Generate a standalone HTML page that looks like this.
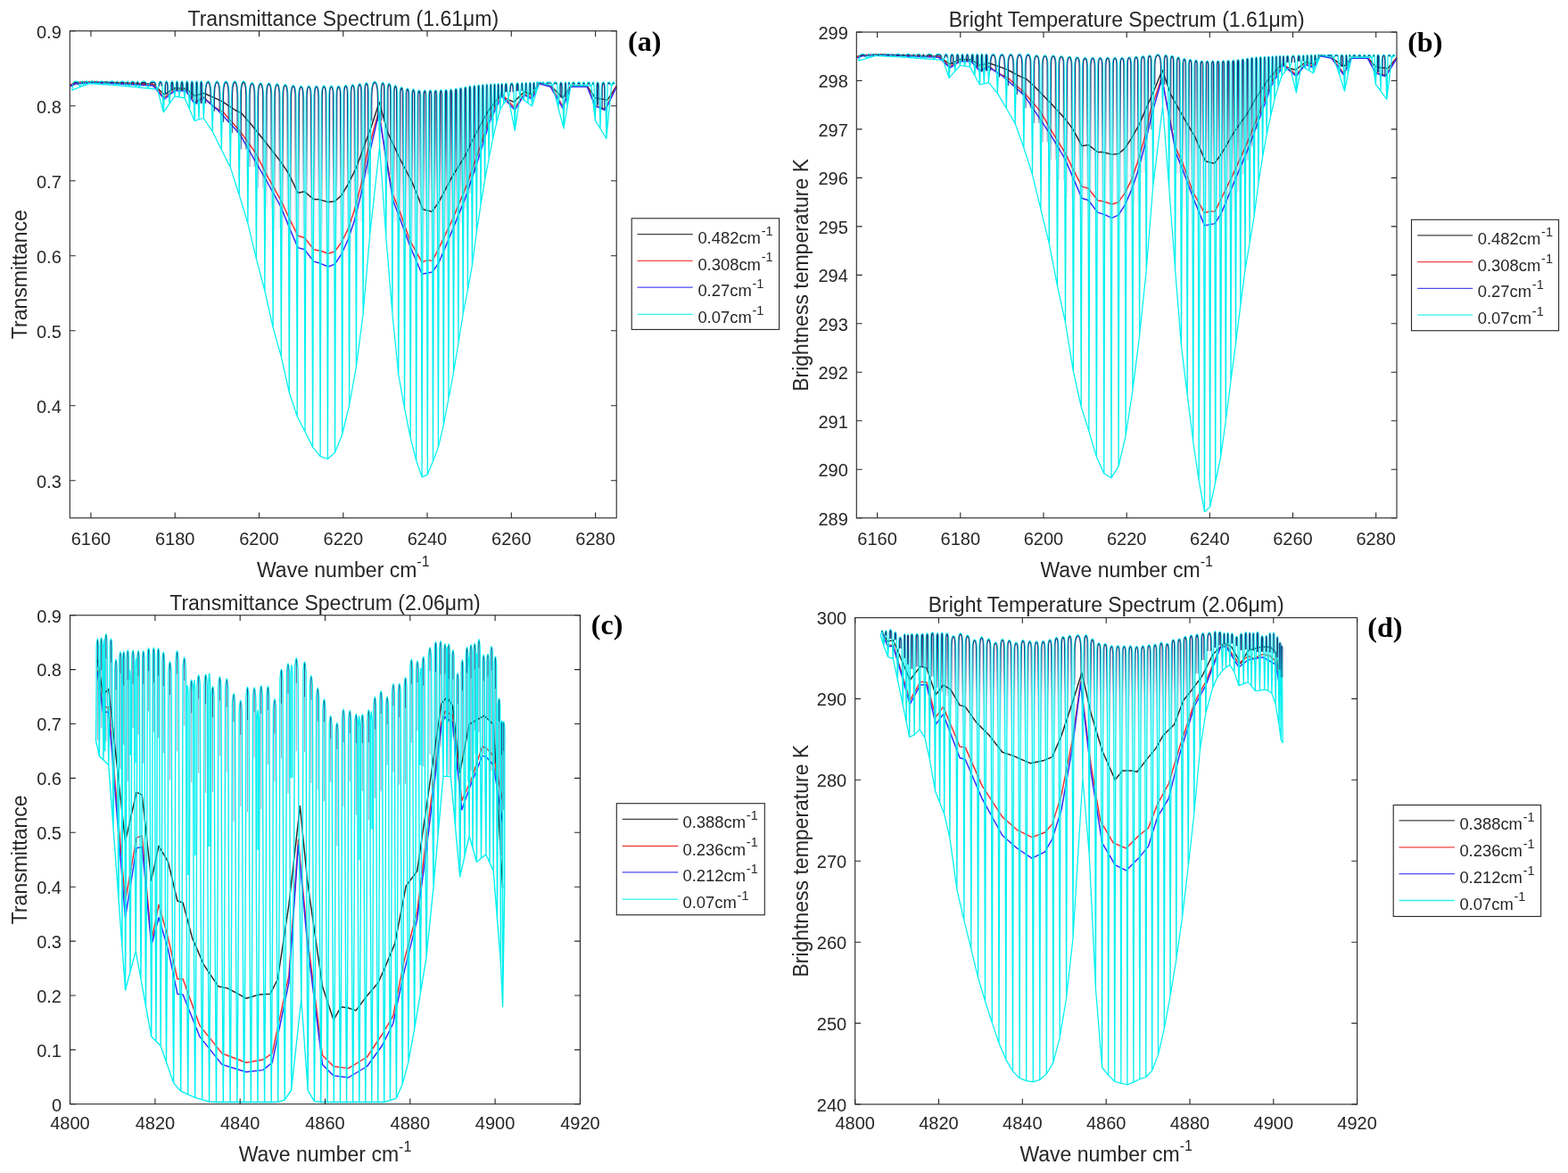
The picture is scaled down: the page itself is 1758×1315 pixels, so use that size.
<!DOCTYPE html>
<html><head><meta charset="utf-8"><title>Spectra</title><style>html,body{margin:0;padding:0;background:#fff;}svg{display:block;}</style></head><body>
<svg width="1758" height="1315" viewBox="0 0 1758 1315">
<rect width="1758" height="1315" fill="#fff"/>
<clipPath id="clipa"><rect x="78.3" y="34.7" width="612.9" height="546.0"/></clipPath>
<g clip-path="url(#clipa)">
<path d="M78.4 95.3l6.3 -2.9 19.3 -1 67.7 2.9 12.6 11.7 11.6 -7.3 12.6 .5 9.6 8.2 10.7 -2.9 15.4 6.8 6 3.1 13.6 9.1 6.9 3.4 9.1 10.3 19.2 23.8 15.8 20.4 8.9 13.3 10.3 21.5 7.4 -1.5 10.4 8.9 5.9 0 10.3 2.9 7.4 -.7 7.4 -6.7 7.4 -12.5 8.9 -17.8 6.9 -18.8 11 -30 8.2 -25.4 9.5 34 13.2 28.4 14.5 28 11.8 29.7 10.3 2.6 7.8 -11.5 14.8 -28.1 14.8 -23.7 8.9 -19.2 15.7 -29 13.7 -18.3 15.9 6.9 11.4 -11.4 9.1 3.4 8 -13.7 12.6 3.4 13.7 13.7 9.1 -13.7 18.2 0 9.1 13.7 13.7 2.3 10.3 -16" fill="none" stroke="#262626" stroke-width="1.45" stroke-linejoin="round"/>
<path d="M78.4 96.0l6.3 -3 19.3 -1 67.7 3 12.6 14.3 11.6 -8.7 12.6 .5 9.6 13.6 10.2 -5.9 10.5 10.1 11.4 6.9 18.2 20.5 18.2 25.1 12.4 24.6 15.8 28.3 10.3 22.2 8.9 17.8 7.4 2.2 10.4 13.3 7.4 1.5 8.8 2.9 7.4 -2.2 7.4 -10.3 7.4 -14.8 7.4 -22.2 7.4 -28.1 6.5 -34.6 13.3 -47.5 6.8 45.5 8.9 48.4 7.4 17.8 11.9 34 13.3 23.6 6.6 -2.2 5.2 .8 7.4 -14.8 14.8 -31.1 14.8 -35.5 14.8 -41.4 12.1 -37 13.6 -27.3 14.9 15.9 10.2 -15.9 9.1 3.4 8 -16 12.6 3.4 13.7 22.8 9.1 -22.8 18.2 0 9.1 21.7 11.4 4.6 12.6 -26.3" fill="none" stroke="#ff2a2a" stroke-width="1.45" stroke-linejoin="round"/>
<path d="M78.4 97.0l6.3 -3 19.3 -1.5 67.7 3.5 12.6 15.3 11.6 -9.7 12.6 .4 9.6 14.1 10.2 -6.1 15.9 13.4 24.2 26.3 30.6 53.3 15.8 28.7 10.3 25.2 8.9 20.7 7.4 2.2 10.4 13.3 7.4 2.2 8.8 3.7 7.4 -2.9 7.4 -11.1 7.4 -16.3 7.4 -22.2 7.4 -29.6 7.4 -36.9 12.4 -53.4 7.2 45.4 8.5 52.3 7.4 19.3 11.9 32.5 13.3 31.1 11.8 -2.2 7.4 -11.2 14.8 -35.5 14.8 -36.9 14.8 -44.4 12.1 -39.8 13.6 -29.7 14.9 16 10.2 -17.1 9.1 4.6 8 -17.1 12.6 3.4 13.7 23.9 9.1 -23.9 18.2 0 9.1 21.6 11.4 4.6 12.6 -26.2" fill="none" stroke="#2a2aff" stroke-width="1.45" stroke-linejoin="round"/>
<linearGradient id="nga" gradientUnits="userSpaceOnUse" x1="0" y1="95.0" x2="0" y2="300.0"><stop offset="0" stop-color="#1c2d72" stop-opacity="1"/><stop offset="0.18" stop-color="#1c2d72" stop-opacity="0.85"/><stop offset="0.6" stop-color="#1c2d72" stop-opacity="0.2"/><stop offset="1" stop-color="#1c2d72" stop-opacity="0"/></linearGradient>
<path d="M80.5 101.1l1.3 -5.2 .2 -2 .7 -1.6 1.1 -1 1.4 -.3 1.5 .3 1.1 1 .7 1.6 .2 2 1.3 1.6 0 0 1.3 -2.9 .1 -1.5 .2 -1.1 .2 -.7 .4 -.3 .4 .3 .3 .7 .2 1.1 .1 1.5 1.3 1.2 0 0 1.3 -2.9 .1 -.8 .3 -.6 .4 -.4 .6 -.1 .6 .1 .5 .4 .3 .6 .1 .8 1.3 .7 0 0 1.3 -.7 .1 -.8 .4 -.6 .6 -.4 .8 -.1 .8 .1 .5 .4 .4 .6 .2 .8 1.3 1.1 0 0 1.3 -.7 0 -1 .1 -.7 .2 -.4 .2 -.2 .2 .2 .2 .4 .1 .7 0 1 1.3 1 0 0 1.3 -.9 .2 -1 .5 -.7 .9 -.5 1.1 -.2 1.2 .2 .8 .5 .6 .7 .2 1 1.3 1.4 0 0 1.2 -2.7 0 -.4 .1 -.4 .1 -.2 0 -.1 .1 .1 .1 .2 0 .4 .1 .4 1.2 2.9 0 0 1.3 -1 .2 -1.3 .6 -.9 1 -.6 1.2 -.2 1.3 .2 1 .6 .6 .9 .2 1.3 1.3 1.6 0 0 1.3 -2.8 0 -.7 .1 -.6 .1 -.4 .1 -.1 .2 .1 .1 .4 .1 .6 0 .7 1.3 3 0 0 1.3 -1.2 .2 -1.5 .6 -1.1 .8 -.7 1.2 -.3 1.1 .3 .9 .7 .6 1.1 .2 1.5 1.3 2 0 0 1.3 -2.4 0 -1.3 .1 -1 .2 -.7 .3 -.2 .2 .2 .2 .7 .2 1 0 1.3 1.3 2.8 0 0 1.3 -1.5 .2 -1.9 .5 -1.4 .7 -.9 1 -.3 1.1 .3 .7 .9 .5 1.4 .2 1.9 1.3 2.2 0 0 1.3 -4.3 0 -1 .1 -.8 .2 -.4 .1 -.2 .2 .2 .2 .4 .1 .8 0 1 1.3 4.7 0 0 1.3 -1.8 .3 -2.2 .7 -1.7 1.2 -1 1.5 -.4 1.5 .4 1.2 1 .7 1.7 .3 2.2 1.3 2.8 0 0 1.3 -2.1 .3 -2.5 .8 -1.9 1.2 -1.2 1.6 -.4 1.7 .4 1.2 1.2 .8 1.9 .3 2.5 1.3 3.1 0 0 1.3 -2.3 .1 -2.8 .5 -2.2 .6 -1.3 .9 -.5 .9 .5 .6 1.3 .5 2.2 .1 2.8 1.3 28 0 0 1.3 -24.1 .1 -4.5 .5 -3.3 .6 -2.2 .8 -.7 .9 .7 .6 2.2 .5 3.3 .1 4.5 1.3 14.6 0 0 1.3 -16.7 .1 -3.6 .3 -2.7 .6 -1.7 .7 -.6 .6 .6 .6 1.7 .3 2.7 .1 3.6 1.3 8.3 0 0 1.3 -10.4 .1 -2.7 .2 -2 .4 -1.3 .5 -.5 .6 .5 .4 1.3 .2 2 .1 2.7 1.3 11.3 0 0 1.3 -9 .1 -3.7 .4 -2.7 .5 -1.8 .7 -.6 .7 .6 .5 1.8 .4 2.7 .1 3.7 1.3 10 0 0 1.3 -11.3 .1 -3.1 .3 -2.4 .4 -1.5 .7 -.5 .6 .5 .4 1.5 .3 2.4 .1 3.1 1.3 24 0 0 1.3 -23.7 .1 -3.3 .3 -2.4 .5 -1.6 .6 -.5 .6 .5 .5 1.6 .3 2.4 .1 3.3 1.3 36.6 0 0 1.3 -38.4 .1 -2.5 .2 -1.9 .4 -1.2 .5 -.4 .4 .4 .4 1.2 .2 1.9 .1 2.5 1.3 37 0 0 1.3 -36 .1 -2.9 .3 -2.2 .4 -1.4 .5 -.5 .6 .5 .4 1.4 .3 2.2 .1 2.9 1.3 34.5 0 0 1.3 -22.4 .3 -8 .7 -5.9 1.1 -3.9 1.6 -1.3 1.5 1.3 1.1 3.9 .8 5.9 .2 8 1.3 37.2 0 0 1.3 -36.8 .3 -8.1 .8 -6.1 1.1 -3.9 1.6 -1.4 1.6 1.4 1.1 3.9 .8 6.1 .2 8.1 1.3 57.2 0 0 1.3 -57.5 .3 -8 .7 -6 1.2 -3.9 1.5 -1.3 1.6 1.3 1.1 3.9 .8 6 .2 8 1.3 77.4 0 0 1.3 -77.8 .3 -7.8 .7 -5.9 1.1 -3.8 1.5 -1.3 1.5 1.3 1.2 3.8 .7 5.9 .3 7.8 1.3 108.7 0 0 1.3 -109 .2 -7.7 .7 -5.8 1.1 -3.7 1.5 -1.3 1.5 1.3 1.1 3.7 .7 5.8 .3 7.7 1.3 140.9 0 0 1.3 -139.7 .2 -7.6 .7 -5.6 1.1 -3.7 1.4 -1.2 1.5 1.2 1.1 3.7 .7 5.6 .2 7.6 1.3 179.6 0 0 1.3 -179.7 .3 -7.4 .6 -5.5 1.1 -3.6 1.4 -1.2 1.5 1.2 1 3.6 .7 5.5 .3 7.4 1.3 215.4 0 0 1.3 -215.6 .2 -7.3 .7 -5.4 1 -3.5 1.4 -1.2 1.4 1.2 1 3.5 .7 5.4 .2 7.3 1.3 256.8 0 0 1.3 -256.4 .3 -7.1 .6 -5.3 1.1 -3.4 1.3 -1.2 1.4 1.2 1 3.4 .7 5.3 .2 7.1 1.3 289.1 0 0 1.3 -288.6 .2 -7 .7 -5.2 1 -3.4 1.3 -1.1 1.4 1.1 1 3.4 .6 5.2 .2 7 1.3 328.7 0 0 1.3 -328.2 .2 -6.9 .7 -5.1 1 -3.2 1.3 -1.2 1.3 1.2 1 3.2 .6 5.1 .2 6.9 1.3 354.8 0 0 1.3 -354.3 .2 -6.7 .6 -5 1 -3.2 1.3 -1.1 1.3 1.1 .9 3.2 .6 5 .3 6.7 1.3 371.7 0 0 1.3 -372.2 .2 -6.5 .6 -4.9 .9 -3.1 1.3 -1.1 1.2 1.1 1 3.1 .6 4.9 .2 6.5 1.3 389.3 0 0 1.3 -389.7 .2 -6.4 .6 -4.8 .9 -3 1.2 -1.1 1.2 1.1 1 3 .5 4.8 .3 6.4 1.3 400.3 0 0 1.3 -400.8 .2 -6.2 .5 -4.7 .9 -3 1.2 -1 1.2 1 .9 3 .6 4.7 .2 6.2 1.3 403.6 0 0 1.3 -403.8 .2 -6.1 .6 -4.6 .8 -2.9 1.2 -1 1.2 1 .8 2.9 .6 4.6 .2 6.1 1.3 396.5 0 0 1.3 -396.8 .2 -5.9 .5 -4.5 .9 -2.8 1.1 -1 1.2 1 .8 2.8 .6 4.5 .2 5.9 1.3 376.6 0 0 1.3 -377.6 .2 -5.8 .5 -4.4 .8 -2.8 1.1 -.9 1.2 .9 .8 2.8 .5 4.4 .2 5.8 1.3 345.1 0 0 1.3 -346.2 .2 -5.7 .5 -4.2 .8 -2.7 1.1 -1 1.1 1 .8 2.7 .5 4.2 .2 5.7 1.3 302.9 0 0 1.3 -304.3 .2 -5.5 .5 -4.1 .8 -2.7 1 -.9 1.1 .9 .8 2.7 .5 4.1 .2 5.5 1.3 245.2 0 0 1.3 -246.6 .1 -5.3 .5 -4 .8 -2.6 1 -.9 1.1 .9 .7 2.6 .5 4 .2 5.3 1.3 158.8 0 0 1.3 -151.2 .3 -9.2 .8 -6.8 1.4 -4.4 1.7 -1.6 1.8 1.6 1.3 4.4 .8 6.8 .3 9.2 1.3 51.5 0 0 1.3 -60.3 .2 -5 .5 -3.7 .7 -2.4 .9 -.9 1 .9 .7 2.4 .5 3.7 .1 5 1.3 160.8 0 0 1.3 -160 .2 -4.9 .4 -3.6 .7 -2.3 1 -.8 .9 .8 .7 2.3 .4 3.6 .2 4.9 1.3 246.4 0 0 1.3 -244.7 .1 -4.7 .5 -3.5 .6 -2.2 .9 -.8 .9 .8 .7 2.2 .5 3.5 .1 4.7 1.3 313.2 0 0 1.3 -311.4 .1 -4.5 .5 -3.4 .6 -2.2 .9 -.8 .9 .8 .6 2.2 .4 3.4 .2 4.5 1.3 349.3 0 0 1.3 -348.4 .1 -4.4 .4 -3.3 .7 -2.1 .8 -.8 .8 .8 .7 2.1 .4 3.3 .1 4.4 1.3 381.4 0 0 1.3 -380.8 .2 -4.2 .4 -3.2 .6 -2 .8 -.7 .8 .7 .6 2 .4 3.2 .1 4.2 1.3 406.2 0 0 1.3 -405.5 .2 -4.1 .3 -3.1 .6 -1.9 .8 -.7 .8 .7 .6 1.9 .4 3.1 .1 4.1 1.3 424.1 0 0 1.3 -424.4 .1 -4 .4 -2.9 .6 -1.9 .7 -.7 .8 .7 .6 1.9 .3 2.9 .1 4 1.3 421.6 0 0 1.3 -422 .2 -3.8 .3 -2.8 .6 -1.9 .7 -.6 .7 .6 .6 1.9 .3 2.8 .2 3.8 1.3 407 0 0 1.3 -407.3 .1 -3.7 .3 -2.7 .5 -1.8 .7 -.6 .7 .6 .6 1.8 .3 2.7 .1 3.7 1.3 391.5 0 0 1.3 -392.2 .1 -3.5 .4 -2.6 .5 -1.7 .6 -.6 .7 .6 .5 1.7 .3 2.6 .2 3.5 1.3 367.5 0 0 1.3 -368.2 .1 -3.4 .3 -2.5 .5 -1.6 .6 -.6 .6 .6 .5 1.6 .3 2.5 .1 3.4 1.3 338.7 0 0 1.3 -339.4 .1 -3.2 .3 -2.4 .5 -1.5 .6 -.6 .6 .6 .5 1.5 .3 2.4 .1 3.2 1.3 309.9 0 0 1.3 -311.1 .1 -3.1 .3 -2.3 .4 -1.4 .6 -.6 .6 .6 .4 1.4 .3 2.3 .1 3.1 1.3 278.5 0 0 1.3 -279.7 .1 -3 .3 -2.1 .4 -1.4 .6 -.5 .5 .5 .5 1.4 .2 2.1 .1 3 1.3 246.7 0 0 1.3 -248.2 .1 -2.7 .3 -2.1 .4 -1.3 .5 -.5 .5 .5 .4 1.3 .3 2.1 .1 2.7 1.3 221.3 0 0 1.3 -222.7 .1 -2.6 .2 -2 .4 -1.2 .5 -.5 .5 .5 .4 1.2 .2 2 .1 2.6 1.3 195 0 0 1.3 -195.9 .1 -2.5 .2 -1.8 .3 -1.2 .5 -.4 .5 .4 .4 1.2 .2 1.8 .1 2.5 1.3 159.2 0 0 1.3 -160 0 -2.3 .3 -1.7 .3 -1.2 .4 -.3 .5 .3 .3 1.2 .2 1.7 .1 2.3 1.3 128.9 0 0 1.3 -129.6 .1 -2.2 .2 -1.6 .3 -1.1 .4 -.4 .4 .4 .3 1.1 .2 1.6 .1 2.2 1.3 101.9 0 0 1.3 -102.6 .1 -2 .2 -1.6 .3 -.9 .4 -.4 .3 .4 .3 .9 .2 1.6 .1 2 1.3 78.7 0 0 1.3 -79.4 .1 -1.8 .1 -1.4 .3 -1 .4 -.3 .3 .3 .3 1 .2 1.4 0 1.8 1.3 57.7 0 0 1.3 -58.3 .1 -1.7 .1 -1.3 .3 -.9 .3 -.2 .4 .2 .2 .9 .2 1.3 0 1.7 1.3 40.3 0 0 1.3 -40.9 .1 -1.6 .1 -1.2 .3 -.7 .3 -.3 .3 .3 .2 .7 .1 1.2 .1 1.6 1.3 25.6 0 0 1.3 -26.1 0 -1.5 .2 -1.1 .2 -.7 .3 -.2 .2 .2 .2 .7 .2 1.1 0 1.5 1.3 19.4 0 0 1.3 -15.9 .1 -3 .3 -2.2 .4 -1.5 .6 -.5 .6 .5 .4 1.5 .3 2.2 .1 3 1.3 9.6 0 0 1.3 -4.8 .2 -5.1 .4 -3.8 .8 -2.5 .9 -.8 1 .8 .8 2.5 .4 3.8 .2 5.1 1.3 41.1 0 0 1.3 -45.5 .1 -3.4 .3 -2.5 .5 -1.6 .7 -.6 .6 .6 .5 1.6 .3 2.5 .1 3.4 1.3 7.2 0 0 1.3 -10.5 .1 -2.1 .2 -1.5 .3 -1 .3 -.3 .4 .3 .3 1 .2 1.5 .1 2.1 1.3 14.6 0 0 1.3 -14.8 .1 -2 .2 -1.6 .3 -1 .4 -.3 .3 .3 .3 1 .2 1.6 .1 2 1.3 18.2 0 0 1.3 -18.1 .1 -2.2 .2 -1.6 .3 -1 .4 -.4 .4 .4 .3 1 .2 1.6 .1 2.2 1.3 21.5 0 0 1.3 -23.5 0 -1.4 .2 -1 .2 -.7 .3 -.2 .2 .2 .2 .7 .2 1 0 1.4 1.3 10.7 0 0 1.3 -13.6 .1 -.2 .1 -.2 .2 -.1 .4 0 .3 0 .2 .1 .1 .2 .1 .2 1.3 .2 0 0 1.1 -.2 .1 -.2 0 -.2 .1 -.1 0 0 .1 0 .1 .1 0 .2 0 .2 1.2 .8 0 0 1.3 -.3 0 -.4 .1 -.3 .2 -.2 .2 -.1 .3 .1 .1 .2 .2 .3 0 .4 1.3 1.2 0 0 1.3 -.6 .2 -.7 .6 -.5 .9 -.3 1.2 -.1 1.3 .1 .9 .3 .6 .5 .2 .7 1.3 2.5 0 0 1.3 -1 .1 -1.3 .4 -1 .6 -.6 .9 -.2 .8 .2 .6 .6 .4 1 .1 1.3 1.3 25.9 0 0 1.3 -20.2 .1 -3.7 .4 -2.7 .5 -1.8 .7 -.6 .7 .6 .5 1.8 .4 2.7 .1 3.7 1.3 43.2 0 0 1.3 -48.4 0 -1.5 .2 -1.1 .2 -.7 .3 -.3 .3 .3 .2 .7 .2 1.1 0 1.5 1.3 24.4 0 0 1.3 -24.9 0 -1.3 .2 -1 .2 -.6 .3 -.2 .3 .2 .2 .6 .2 1 0 1.3 1.3 1 0 0 1.3 -1 .1 -1.3 .4 -1 .5 -.6 .7 -.2 .7 .2 .5 .6 .4 1 .1 1.3 1.3 1 0 0 1.3 -1 .1 -1.3 .4 -1 .5 -.6 .7 -.2 .7 .2 .5 .6 .4 1 .1 1.3 1.3 1 0 0 1.3 -1 .1 -1.3 .2 -1 .4 -.6 .5 -.2 .5 .2 .4 .6 .2 1 .1 1.3 1.3 1 0 0 1.3 -1 .1 -1.3 .3 -1 .5 -.6 .7 -.2 .7 .2 .5 .6 .3 1 .1 1.3 1.3 1 0 0 1.3 -1 .1 -1.3 .2 -1 .3 -.6 .3 -.2 .4 .2 .3 .6 .2 1 .1 1.3 1.3 39.8 0 0 1.3 -34.8 .1 -3.4 .3 -2.5 .5 -1.6 .7 -.6 .6 .6 .5 1.6 .3 2.5 .1 3.4 1.3 44.1 0 0 1.3 -41 .1 -4.7 .5 -3.5 .7 -2.2 .8 -.8 .9 .8 .7 2.2 .5 3.5 .1 4.7 1.3 52.2 0 0 1.3 -60.3 .1 -1.3 .3 -1 .5 -.6 .7 -.2 .6 .2 .5 .6 .3 1 .1 1.3 1.3 1 0 0 1.3 -3.3 0 -.4 .2 -.2 .2 -.1 .3 -.1 .2 .1 .2 .1 .2 .2 0 .4 1.3 .2M80.5 101.1l9.5 -3.6 4.5 -1.7 5.5 -2.2 6.4 .4 3.6 .3 8.1 .5 2.9 .2 8.7 .6 3.3 .2 8.2 .8 3.8 .4 7.5 .7 3.5 .4 10 1 10.5 1 6.8 25.7 6.7 -9.5 5.9 -8.4 5.1 .9 6 1 5.5 12.7 5.6 12.9 4.9 -1.4 5.3 -1.5 9.9 14.8 10.1 20.4 10 19.9 9.9 30.9 9.7 31.9 9.5 39.9 9.5 35.7 9.2 41.2 9.2 32.7 9 40.1 8.9 26.6 8.8 17.4 8.6 17.1 8.5 10.6 8.3 2.8 8.2 -7.3 8.1 -20.2 7.9 -32.5 7.8 -43.3 7.7 -59.1 7.5 -87.8 11 -99.7 7.2 100.5 7.1 86.4 6.9 68.5 6.8 37.9 6.6 33 6.5 25.4 6.4 18.6 6.2 -2.8 6.2 -15 5.9 -15.8 5.9 -24.7 5.6 -29.5 5.6 -29.5 5.4 -32.6 5.3 -33 5.2 -26.9 5 -27.7 4.9 -36.7 4.7 -31.1 4.6 -27.7 4.5 -23.9 4.3 -21.7 4.2 -18 4.1 -15.3 3.9 -6.7 5.4 -6.3 7.3 36.3 5.7 -38.3 4.5 4.1 4.5 3.4 4.6 3.4 3.9 -12.8 4.1 -13.4 2.7 .6 3.7 .9 8.5 1.9 6.5 24.9 6 23 4 -24 4 -23.9 6 0 6 0 5 0 5.8 0 4.5 38.8 5.7 9.3 6.9 11.2 5.7 -59.3 3.9 -3.1" fill="none" stroke="#00f0f0" stroke-width="1.25" stroke-linejoin="round"/>
<path d="M82.7 94.9l0 -.7 .3 -1 .9 -.7 1.3 -.3 1.4 .3 .9 .7 .3 1 0 .7M92.2 93.9l0 -.9 0 -.4 0 -.3 0 -.1 .1 .1 0 .3 0 .4 0 .9M96.7 92.7l0 -.1 0 -.2 .2 -.2 .3 0 .3 0 .2 .2 .1 .2 0 .1M102.2 92.7l0 -.1 .1 -.2 .4 -.2 .5 0 .5 0 .3 .2 .2 .2 0 .1M108.6 92.8l0 -.1 -.1 -.3 -.1 -.1 -.2 -.1 -.2 .1 -.2 .1 0 .3 0 .1M112.2 93.0l0 -.2 .2 -.3 .7 -.2 .9 -.1 1 .1 .7 .2 .2 .3 0 .2M120.2 93.3l0 -.3 -.1 -.4 -.2 -.3 -.4 -.1 -.3 .1 -.3 .3 0 .4 0 .3M123.2 93.4l0 -.3 .3 -.5 .7 -.3 1.1 -.1 1.2 .1 .7 .3 .3 .5 0 .3M131.9 93.7l0 -.7 -.1 -.4 -.2 -.3 -.3 -.1 -.2 .1 -.2 .3 -.1 .4 0 .7M135.2 93.9l0 -.4 .2 -.7 .7 -.4 1 -.2 1 .2 .6 .4 .3 .7 0 .4M143.4 94.4l0 -1.4 -.1 -.4 -.1 -.3 -.1 -.1 -.2 .1 -.1 .3 0 .4 0 1.4M147.2 94.6l0 -.6 .2 -1 .5 -.6 .8 -.2 .9 .2 .5 .6 .2 1 0 .6M154.7 95.0l0 -2 -.1 -.4 -.1 -.3 -.3 -.1 -.2 .1 -.1 .3 -.1 .4 0 2M158.2 95.2l0 -.7 .3 -1.2 1 -.8 1.5 -.3 1.5 .3 1 .8 .3 1.2 0 .7M168.2 95.8l0 -.9 .4 -1.4 1 -1 1.6 -.3 1.7 .3 1 1 .4 1.4 0 .9M178.7 96.5l0 -1.1 .1 -1.7 .5 -1.1 .6 -.4 .6 .4 .5 1.1 .1 1.7 0 1.1M185.5 106.2l0 -8 .1 -3.2 .4 -2.1 .6 -.7 .7 .7 .4 2.1 .1 3.2 0 8M192.2 101.1l0 -5 .1 -2.1 .3 -1.3 .4 -.5 .3 .5 .3 1.3 .1 2.1 0 5M198.1 101.1l0 -7.1 0 -.9 .2 -.7 .1 -.2 .2 .2 .2 .7 0 .9 0 7.1M203.2 101.7l0 -5.3 .1 -2.3 .3 -1.4 .4 -.5 .4 .5 .3 1.4 .1 2.3 0 5.3M209.2 102.3l0 -7.2 .1 -1.6 .2 -.9 .3 -.4 .2 .4 .2 .9 .1 1.6 0 7.2M214.7 109.9l0 -14.6 .1 -1.6 .2 -1.1 .3 -.4 .3 .4 .2 1.1 .1 1.6 0 14.6M220.3 116.8l0 -23.3 0 -.7 .1 -.4 .2 -.2 .1 .2 .1 .4 0 .7 0 23.3M225.2 115.9l0 -21.4 .1 -1.2 .1 -.8 .2 -.3 .3 .3 .1 .8 .1 1.2 0 21.4M230.5 115.9l0 -9.3 .3 -7.7 1 -4.9 1.5 -1.8 1.4 1.8 1 4.9 .3 7.7 0 9.3M240.4 124.8l0 -17.8 .4 -7.9 1 -5.1 1.5 -1.8 1.5 1.8 1 5.1 .3 7.9 0 17.8M250.5 137.0l0 -30.3 .4 -7.7 .9 -5 1.5 -1.8 1.5 1.8 1 5 .3 7.7 0 30.3M260.5 149.0l0 -42.7 .4 -7.5 .9 -4.9 1.4 -1.7 1.5 1.7 .9 4.9 .4 7.5 0 42.7M270.4 167.5l0 -61.5 .3 -7.4 .9 -4.7 1.4 -1.7 1.4 1.7 .9 4.7 .4 7.4 0 61.5M280.1 186.9l0 -79.7 .3 -7.1 .9 -4.7 1.3 -1.6 1.4 1.6 .9 4.7 .3 7.1 0 79.7M289.6 211.3l0 -104.1 .3 -7 .9 -4.5 1.3 -1.6 1.4 1.6 .8 4.5 .4 7 0 104.1M299.1 232.8l0 -125.9 .3 -6.8 .8 -4.3 1.3 -1.6 1.3 1.6 .8 4.3 .3 6.8 0 125.9M308.3 257.7l0 -150.4 .3 -6.5 .9 -4.3 1.2 -1.5 1.3 1.5 .8 4.3 .3 6.5 0 150.4M317.5 277.6l0 -169.8 .3 -6.4 .8 -4.2 1.2 -1.4 1.2 1.4 .8 4.2 .3 6.4 0 169.8M326.5 302.0l0 -193.7 .3 -6.2 .8 -4 1.2 -1.5 1.2 1.5 .7 4 .3 6.2 0 193.7M335.4 318.3l0 -209.5 .3 -6.1 .7 -3.9 1.2 -1.3 1.1 1.3 .8 3.9 .3 6.1 0 209.5M344.2 328.9l0 -220.5 .2 -5.9 .7 -3.8 1.2 -1.3 1.1 1.3 .7 3.8 .3 5.9 0 220.5M352.8 339.1l0 -231.2 .2 -5.6 .7 -3.7 1.1 -1.3 1.1 1.3 .7 3.7 .3 5.6 0 231.2M361.3 345.5l0 -238 .2 -5.5 .7 -3.5 1 -1.3 1.1 1.3 .7 3.5 .2 5.5 0 238M369.6 342.8l0 -235.6 .2 -5.3 .7 -3.4 1 -1.2 1 1.2 .7 3.4 .2 5.3 0 235.6M377.8 330.5l0 -223.6 .2 -5 .7 -3.3 .9 -1.2 1 1.2 .7 3.3 .2 5 0 223.6M385.9 310.7l0 -204.8 .2 -4.9 .6 -3.2 .9 -1.1 1 1.1 .6 3.2 .2 4.9 0 204.8M393.8 284.4l0 -179.6 .2 -4.7 .6 -3.1 .9 -1.1 .9 1.1 .6 3.1 .2 4.7 0 179.6M401.6 248.6l0 -145.2 .2 -4.5 .6 -2.9 .8 -1.1 .9 1.1 .6 2.9 .2 4.5 0 145.2M409.3 195.4l0 -93.3 .2 -4.4 .5 -2.8 .8 -1 .9 1 .5 2.8 .2 4.4 0 93.3M416.8 135.4l0 -25.8 .4 -9.2 1.2 -5.9 1.7 -2.2 1.8 2.2 1.1 5.9 .4 9.2 0 25.8M427.8 135.4l0 -34.6 .2 -3.9 .5 -2.5 .7 -.9 .8 .9 .5 2.5 .1 3.9 0 34.6M435.0 196.2l0 -94.6 .2 -3.7 .4 -2.3 .8 -.9 .7 .9 .4 2.3 .2 3.7 0 94.6M442.1 248.7l0 -145.4 .1 -3.4 .5 -2.3 .6 -.8 .7 .8 .4 2.3 .2 3.4 0 145.4M449.0 290.7l0 -185.6 .1 -3.3 .5 -2.1 .6 -.8 .6 .8 .4 2.1 .2 3.3 0 185.6M455.8 314.1l0 -208.1 .1 -3.1 .4 -2.1 .6 -.7 .6 .7 .4 2.1 .1 3.1 0 208.1M462.4 334.3l0 -227.6 .2 -3 .3 -1.9 .6 -.6 .5 .6 .4 1.9 .1 3 0 227.6M468.9 350.0l0 -242.7 .2 -2.7 .3 -1.8 .5 -.6 .5 .6 .4 1.8 .1 2.7 0 242.7M475.3 359.7l0 -252.7 .1 -2.6 .3 -1.6 .5 -.6 .5 .6 .3 1.6 .1 2.6 0 252.7M481.5 350.7l0 -244.1 .2 -2.3 .2 -1.6 .5 -.5 .5 .5 .2 1.6 .2 2.3 0 244.1M487.7 341.1l0 -234.8 0 -2.2 .3 -1.4 .4 -.5 .5 .5 .2 1.4 .1 2.2 0 234.8M493.6 326.2l0 -220.6 .1 -2 .3 -1.3 .3 -.4 .4 .4 .3 1.3 .1 2 0 220.6M499.5 308.3l0 -203.4 0 -1.8 .3 -1.1 .3 -.5 .3 .5 .3 1.1 0 1.8 0 203.4M505.1 290.4l0 -186.2 .1 -1.6 .2 -1 .3 -.4 .3 .4 .2 1 .1 1.6 0 186.2M510.7 270.5l0 -167.5 .1 -1.4 .1 -.9 .3 -.4 .3 .4 .2 .9 0 1.4 0 167.5M516.1 250.3l0 -148.5 .1 -1.3 .1 -.7 .3 -.3 .2 .3 .2 .7 0 1.3 0 148.5M521.4 233.7l0 -133.3 .1 -1.1 .1 -.7 .2 -.2 .2 .2 .1 .7 .1 1.1 0 133.3M526.6 216.7l0 -117.8 0 -.8 .1 -.6 .2 -.2 .1 .2 .1 .6 .1 .8 0 117.8M531.6 194.6l0 -96.6 0 -.6 .1 -.5 .1 -.1 .2 .1 0 .5 .1 .6 0 96.6M536.5 175.7l0 -78.5 0 -.4 0 -.3 .1 -.1 .1 .1 .1 .3 0 .4 0 78.5M541.2 159.0l0 -62.3 0 -.4 .1 -.3 0 -.1 .1 .1 0 .3 0 .4 0 62.3M545.8 144.5l0 -48.1 0 -.4 0 -.3 .1 -.1 0 .1 0 .3 0 .4 0 48.1M550.3 131.4l0 -35.3 0 -.4 0 -.3 0 -.1 -.1 .1 0 .3 0 .4 0 35.3M554.6 120.5l0 -24.7 0 -.4 0 -.3 -.1 0 0 0 -.1 .3 0 .4 0 24.7M558.8 111.2l0 -15.6 0 -.4 0 -.3 -.1 -.1 -.1 .1 -.1 .3 0 .4 0 15.6M562.9 107.1l0 -11.7 0 -.4 -.1 -.3 -.1 -.1 -.2 .1 0 .3 -.1 .4 0 11.7M566.8 103.2l0 -6.2 .1 -1.4 .2 -.9 .2 -.3 .3 .3 .1 .9 .1 1.4 0 6.2M572.2 103.2l0 -2.2 .2 -3.6 .5 -2.4 .7 -.8 .8 .8 .5 2.4 .2 3.6 0 2.2M579.5 101.9l0 -4.6 .1 -1.8 .2 -1.1 .4 -.5 .3 .5 .2 1.1 .1 1.8 0 4.6M585.2 101.9l0 -7.4 0 -.4 0 -.3 0 0 .1 0 0 .3 0 .4 0 7.4M589.7 104.2l0 -9.8 0 -.5 0 -.2 .1 -.1 0 .1 0 .2 0 .5 0 9.8M594.2 106.2l0 -12 0 -.4 0 -.3 .1 -.1 .1 .1 0 .3 0 .4 0 12M598.8 100.5l0 -6.5 0 -.4 -.1 -.3 -.1 0 -.2 0 -.1 .3 0 .4 0 6.5M602.7 93.7l0 -.1 0 -.2 -.1 -.2 0 0 -.1 0 -.1 .2 0 .2 0 .1M606.6 93.7l0 -.1 0 -.2 -.3 -.2 -.4 0 -.3 0 -.3 .2 -.1 .2 0 .1M609.5 93.7l0 -.1 -.1 -.2 -.1 -.2 -.2 0 -.1 0 -.2 .2 0 .2 0 .1M613.2 93.7l0 -.1 .3 -.2 .7 -.2 1 0 1.1 0 .7 .2 .3 .2 0 .1M621.7 94.5l0 -.4 .1 -.5 .4 -.3 .6 -.1 .5 .1 .4 .3 .1 .5 0 .4M628.2 109.4l0 -12 .1 -2.3 .3 -1.4 .4 -.5 .4 .5 .3 1.4 .1 2.3 0 12M634.2 108.8l0 -14.8 0 -.4 -.1 -.3 -.1 -.1 -.1 .1 -.1 .3 0 .4 0 14.8M638.2 94.5l0 -.5 0 -.4 -.1 -.3 -.1 -.1 -.1 .1 -.1 .3 0 .4 0 .5M642.2 94.5l0 -.4 .1 -.5 .3 -.3 .4 -.1 .4 .1 .3 .3 .1 .5 0 .4M648.2 94.5l0 -.4 .1 -.5 .3 -.3 .4 -.1 .4 .1 .3 .3 .1 .5 0 .4M654.2 94.5l0 -.4 0 -.5 .1 -.3 .2 -.1 .2 .1 .1 .3 0 .5 0 .4M659.2 94.5l0 -.4 .1 -.5 .2 -.3 .4 -.1 .4 .1 .2 .3 .1 .5 0 .4M665.0 94.5l0 -.5 0 -.4 0 -.3 0 -.1 .1 .1 0 .3 0 .4 0 .5M669.5 117.7l0 -21.1 .1 -1.8 .2 -1.2 .4 -.4 .3 .4 .2 1.2 .1 1.8 0 21.1M675.2 123.3l0 -23.6 .2 -3.5 .4 -2.2 .6 -.8 .7 .8 .4 2.2 .2 3.5 0 23.6M682.1 94.5l0 -.4 .1 -.5 .2 -.3 .4 -.1 .3 .1 .2 .3 .1 .5 0 .4M687.8 93.7l0 -.1 0 -.2 -.1 -.2 -.1 0 -.2 0 -.1 .2 0 .2 0 .1" fill="none" stroke="url(#nga)" stroke-width="1.15" stroke-linejoin="round"/>
</g>
<clipPath id="clipb"><rect x="960.3" y="36.0" width="605.7" height="544.7"/></clipPath>
<g clip-path="url(#clipb)">
<path d="M960.4 63.8l6.2 -2.2 19.1 -.7 66.9 2.2 12.5 8.9 11.4 -5.6 12.5 .4 9.5 6.3 10.5 -2.3 15.3 5.3 5.9 2.4 13.4 7.1 6.8 2.7 9 8.2 19 19.4 15.6 17.2 8.8 11.5 10.2 19.1 7.3 -1.3 10.3 8.1 5.8 0 10.2 2.6 7.3 -.6 7.3 -6.1 7.3 -11.3 8.8 -15.6 6.9 -16.1 10.8 -24.7 8.1 -20.1 9.4 27.1 13.1 23.7 14.3 24.3 11.6 27 10.2 2.5 7.7 -10.7 14.7 -25.2 14.6 -20.5 8.8 -16 15.5 -23.4 13.5 -14.3 15.8 5.4 11.2 -8.8 9 2.6 7.9 -10.4 12.5 2.5 13.5 10.5 9 -10.5 18 0 9 10.5 13.5 1.8 10.2 -12.3" fill="none" stroke="#262626" stroke-width="1.45" stroke-linejoin="round"/>
<path d="M960.4 64.4l6.2 -2.3 19.1 -.8 66.9 2.3 12.5 10.9 11.4 -6.6 12.5 .3 9.5 10.5 10 -4.6 10.4 7.9 11.3 5.4 18 16.4 18 20.8 12.2 21.2 15.6 25.3 10.2 20.8 8.8 17.2 7.3 2.1 10.3 13.3 7.3 1.5 8.7 3 7.3 -2.3 7.3 -10.3 7.3 -14.5 7.3 -21.2 7.4 -25.6 6.4 -30 13.1 -38.7 6.7 37 8.8 42.3 7.4 16.4 11.7 32.8 13.2 23.9 6.5 -2.2 5.1 .8 7.3 -15.1 14.7 -30.4 14.6 -32.8 14.6 -36 12 -30.3 13.4 -21.3 14.7 12.3 10.1 -12.3 9 2.6 7.9 -12.2 12.5 2.5 13.5 17.6 9 -17.6 18 0 9 16.7 11.2 3.6 12.5 -20.3" fill="none" stroke="#ff2a2a" stroke-width="1.45" stroke-linejoin="round"/>
<path d="M960.4 65.1l6.2 -2.2 19.1 -1.2 66.9 2.7 12.5 11.7 11.4 -7.5 12.5 .3 9.5 10.9 10 -4.7 15.8 10.4 23.9 21.1 30.2 45.3 15.6 26.1 10.2 23.9 8.8 20.4 7.3 2.2 10.3 13.6 7.3 2.3 8.7 3.9 7.3 -3.1 7.3 -11.4 7.3 -16.4 7.3 -21.5 7.4 -27.5 7.3 -32.5 12.2 -43.9 7.1 37.1 8.4 46 7.4 18 11.7 31.7 13.2 32.1 11.6 -2.3 7.3 -11.8 14.7 -35.6 14.6 -34.7 14.6 -39.1 12 -32.9 13.4 -23.4 14.7 12.5 10.1 -13.3 9 3.5 7.9 -13 12.5 2.6 13.5 18.4 9 -18.4 18 0 9 16.6 11.2 3.6 12.5 -20.2" fill="none" stroke="#2a2aff" stroke-width="1.45" stroke-linejoin="round"/>
<linearGradient id="ngb" gradientUnits="userSpaceOnUse" x1="0" y1="66.0" x2="0" y2="260.0"><stop offset="0" stop-color="#1c2d72" stop-opacity="1"/><stop offset="0.18" stop-color="#1c2d72" stop-opacity="0.85"/><stop offset="0.6" stop-color="#1c2d72" stop-opacity="0.2"/><stop offset="1" stop-color="#1c2d72" stop-opacity="0"/></linearGradient>
<path d="M962.5 68.2l1.3 -3.9 .2 -1.6 .7 -1.1 1 -.8 1.5 -.2 1.4 .2 1.1 .8 .6 1.1 .3 1.6 1.3 1.2 0 0 1.2 -2.2 .1 -1.1 .2 -.9 .3 -.5 .4 -.2 .4 .2 .3 .5 .1 .9 .1 1.1 1.3 .9 0 0 1.3 -2.1 .1 -.7 .3 -.4 .4 -.3 .6 -.1 .6 .1 .5 .3 .3 .4 .1 .7 1.2 .4 0 0 1.3 -.4 .2 -.7 .3 -.4 .6 -.3 .8 -.1 .8 .1 .5 .3 .4 .4 .1 .7 1.3 .8 0 0 1.3 -.6 0 -.7 .1 -.5 .2 -.4 .2 -.1 .2 .1 .2 .4 .1 .5 0 .7 1.3 .7 0 0 1.3 -.6 .2 -.7 .5 -.6 .9 -.4 1.1 -.1 1.2 .1 .8 .4 .5 .6 .2 .7 1.3 1.1 0 0 1.2 -2.1 .1 -.3 0 -.3 .1 -.1 .1 -.1 0 .1 .1 .1 .1 .3 0 .3 1.2 2.2 0 0 1.3 -.7 .2 -1 .6 -.7 .9 -.5 1.3 -.1 1.2 .1 1 .5 .6 .7 .2 1 1.3 1.1 0 0 1.3 -2 0 -.6 .1 -.4 .1 -.3 .1 -.1 .2 .1 .1 .3 0 .4 .1 .6 1.3 2.2 0 0 1.2 -.9 .2 -1.1 .6 -.9 .8 -.5 1.2 -.2 1.1 .2 .9 .5 .5 .9 .2 1.1 1.3 1.5 0 0 1.3 -1.8 0 -1 .2 -.8 .2 -.4 .2 -.2 .3 .2 .2 .4 .1 .8 0 1 1.3 2.1 0 0 1.3 -1.1 .2 -1.4 .5 -1.1 .7 -.7 1 -.2 1 .2 .8 .7 .5 1.1 .1 1.4 1.3 1.7 0 0 1.3 -3.3 0 -.8 .1 -.5 .2 -.4 .2 -.1 .1 .1 .2 .4 .1 .5 0 .8 1.3 3.5 0 0 1.3 -1.3 .2 -1.7 .8 -1.2 1.1 -.8 1.5 -.3 1.6 .3 1.1 .8 .7 1.2 .3 1.7 1.3 2.1 0 0 1.3 -1.5 .2 -2 .8 -1.4 1.2 -.9 1.7 -.3 1.6 .3 1.2 .9 .8 1.4 .3 2 1.2 2.3 0 0 1.3 -1.7 .2 -2.2 .4 -1.6 .6 -1.1 .9 -.3 .9 .3 .6 1.1 .4 1.6 .2 2.2 1.3 21.6 0 0 1.3 -18.7 .1 -3.4 .4 -2.5 .6 -1.7 .9 -.5 .8 .5 .7 1.7 .4 2.5 .1 3.4 1.3 11.2 0 0 1.3 -12.8 .1 -2.7 .3 -2.1 .5 -1.3 .7 -.4 .7 .4 .5 1.3 .3 2.1 .1 2.7 1.3 6.4 0 0 1.3 -8 .1 -2.1 .2 -1.5 .4 -1 .5 -.3 .6 .3 .3 1 .3 1.5 .1 2.1 1.3 8.6 0 0 1.2 -6.8 .2 -2.8 .3 -2.1 .5 -1.3 .7 -.5 .7 .5 .5 1.3 .4 2.1 .1 2.8 1.3 7.6 0 0 1.3 -8.6 .1 -2.4 .3 -1.8 .4 -1.1 .6 -.4 .6 .4 .5 1.1 .2 1.8 .1 2.4 1.3 18.5 0 0 1.3 -18.3 .1 -2.5 .3 -1.8 .5 -1.2 .6 -.4 .6 .4 .5 1.2 .3 1.8 .1 2.5 1.3 28.5 0 0 1.2 -29.9 .1 -1.9 .2 -1.4 .4 -.9 .5 -.3 .5 .3 .3 .9 .2 1.4 .1 1.9 1.3 28.8 0 0 1.3 -28 .1 -2.2 .2 -1.7 .5 -1 .5 -.4 .6 .4 .4 1 .3 1.7 .1 2.2 1.2 26.8 0 0 1.3 -17.6 .3 -6.1 .7 -4.5 1.1 -2.9 1.5 -1 1.6 1 1.1 2.9 .7 4.5 .3 6.1 1.3 29.5 0 0 1.2 -29.1 .3 -6.3 .7 -4.6 1.2 -3 1.6 -1 1.5 1 1.2 3 .7 4.6 .3 6.3 1.2 46 0 0 1.3 -46.3 .3 -6.1 .7 -4.6 1.2 -2.9 1.5 -1 1.5 1 1.1 2.9 .8 4.6 .2 6.1 1.3 63.3 0 0 1.3 -63.6 .2 -6 .8 -4.5 1.1 -2.8 1.5 -1 1.5 1 1.1 2.8 .7 4.5 .2 6 1.3 90.9 0 0 1.3 -91.1 .3 -6 .7 -4.3 1.1 -2.8 1.4 -1 1.5 1 1.1 2.8 .7 4.3 .2 6 1.3 120.9 0 0 1.3 -120 .2 -5.8 .7 -4.3 1.1 -2.8 1.4 -.9 1.5 .9 1 2.8 .7 4.3 .3 5.8 1.3 159.6 0 0 1.2 -159.6 .3 -5.7 .7 -4.3 1 -2.7 1.4 -.9 1.4 .9 1.1 2.7 .7 4.3 .2 5.7 1.3 197.6 0 0 1.3 -197.8 .2 -5.6 .7 -4.1 1 -2.7 1.4 -.9 1.4 .9 1 2.7 .7 4.1 .2 5.6 1.3 245.3 0 0 1.3 -245 .2 -5.5 .6 -4 1 -2.6 1.4 -.9 1.3 .9 1.1 2.6 .6 4 .2 5.5 1.3 286 0 0 1.3 -285.6 .2 -5.4 .7 -4 1 -2.5 1.3 -.9 1.3 .9 1 2.5 .6 4 .2 5.4 1.3 340.2 0 0 1.3 -339.9 .2 -5.2 .7 -3.9 .9 -2.5 1.3 -.9 1.3 .9 1 2.5 .6 3.9 .2 5.2 1.3 379.6 0 0 1.3 -379.2 .2 -5.1 .6 -3.9 1 -2.4 1.2 -.8 1.3 .8 1 2.4 .6 3.9 .2 5.1 1.3 406.8 0 0 1.2 -407.1 .3 -5 .6 -3.8 .9 -2.4 1.2 -.8 1.3 .8 .9 2.4 .6 3.8 .2 5 1.3 435.8 0 0 1.3 -436.2 .2 -4.9 .5 -3.6 1 -2.3 1.2 -.9 1.2 .9 .9 2.3 .6 3.6 .2 4.9 1.3 454.7 0 0 1.2 -455 .2 -4.8 .6 -3.6 .9 -2.2 1.2 -.8 1.2 .8 .8 2.2 .6 3.6 .2 4.8 1.3 459.9 0 0 1.3 -460.1 .2 -4.7 .5 -3.5 .9 -2.2 1.2 -.8 1.1 .8 .9 2.2 .5 3.5 .2 4.7 1.3 447.2 0 0 1.3 -447.4 .2 -4.6 .5 -3.4 .9 -2.1 1.1 -.8 1.1 .8 .9 2.1 .5 3.4 .2 4.6 1.3 413.1 0 0 1.3 -413.9 .2 -4.5 .5 -3.3 .8 -2.1 1.1 -.7 1.1 .7 .8 2.1 .6 3.3 .1 4.5 1.3 363 0 0 1.3 -363.9 .2 -4.3 .5 -3.2 .8 -2.1 1.1 -.7 1.1 .7 .8 2.1 .5 3.2 .2 4.3 1.2 302.8 0 0 1.3 -303.8 .2 -4.2 .5 -3.2 .8 -2 1 -.6 1.1 .6 .8 2 .5 3.2 .1 4.2 1.3 230.2 0 0 1.3 -231.3 .2 -4.1 .5 -3 .7 -1.9 1 -.7 1 .7 .8 1.9 .5 3 .2 4.1 1.3 137.5 0 0 1.2 -131.6 .3 -7.1 .9 -5.2 1.3 -3.3 1.7 -1.2 1.7 1.2 1.3 3.3 .9 5.2 .3 7.1 1.3 41.4 0 0 1.2 -48.2 .2 -3.8 .5 -2.9 .7 -1.8 .9 -.6 1 .6 .7 1.8 .4 2.9 .2 3.8 1.3 139.2 0 0 1.2 -138.6 .2 -3.7 .4 -2.8 .7 -1.7 .9 -.6 1 .6 .7 1.7 .4 2.8 .2 3.7 1.2 230.9 0 0 1.3 -229.6 .2 -3.6 .4 -2.6 .7 -1.7 .9 -.6 .8 .6 .7 1.7 .4 2.6 .2 3.6 1.3 315.8 0 0 1.3 -314.4 .1 -3.5 .4 -2.6 .7 -1.6 .8 -.6 .9 .6 .6 1.6 .4 2.6 .2 3.5 1.3 368.7 0 0 1.3 -368 .1 -3.4 .4 -2.5 .6 -1.7 .9 -.5 .8 .5 .6 1.7 .4 2.5 .2 3.4 1.2 420.3 0 0 1.3 -419.8 .2 -3.3 .3 -2.4 .7 -1.6 .8 -.5 .8 .5 .6 1.6 .4 2.4 .1 3.3 1.3 463.7 0 0 1.3 -463.2 .1 -3.2 .4 -2.3 .5 -1.5 .8 -.5 .8 .5 .6 1.5 .4 2.3 .1 3.2 1.3 498 0 0 1.3 -498.3 .1 -3 .3 -2.3 .6 -1.4 .8 -.5 .7 .5 .6 1.4 .3 2.3 .2 3 1.2 493 0 0 1.3 -493.2 .1 -3 .4 -2.2 .5 -1.3 .8 -.5 .7 .5 .5 1.3 .4 2.2 .1 3 1.3 465.3 0 0 1.3 -465.6 .1 -2.8 .3 -2.1 .5 -1.4 .7 -.4 .7 .4 .5 1.4 .4 2.1 .1 2.8 1.3 437.6 0 0 1.3 -438.1 .1 -2.7 .3 -2 .5 -1.3 .6 -.5 .7 .5 .5 1.3 .3 2 .1 2.7 1.3 397.3 0 0 1.3 -397.9 .1 -2.5 .3 -2 .5 -1.2 .6 -.4 .7 .4 .5 1.2 .3 2 .1 2.5 1.3 352.9 0 0 1.2 -353.4 .1 -2.5 .3 -1.8 .5 -1.2 .6 -.4 .6 .4 .5 1.2 .3 1.8 .1 2.5 1.3 311.8 0 0 1.2 -312.7 .1 -2.4 .3 -1.7 .4 -1.2 .6 -.3 .6 .3 .4 1.2 .3 1.7 .1 2.4 1.3 270.3 0 0 1.3 -271.3 .1 -2.2 .3 -1.7 .4 -1 .5 -.4 .6 .4 .4 1 .3 1.7 .1 2.2 1.2 231.3 0 0 1.3 -232.4 .1 -2.1 .3 -1.6 .4 -1 .5 -.3 .5 .3 .4 1 .3 1.6 0 2.1 1.3 202 0 0 1.3 -203.1 .1 -2 .2 -1.4 .4 -1 .5 -.3 .5 .3 .4 1 .2 1.4 .1 2 1.3 173.3 0 0 1.3 -174 0 -1.8 .3 -1.4 .3 -.9 .5 -.4 .5 .4 .3 .9 .2 1.4 .1 1.8 1.3 137.1 0 0 1.3 -137.6 .1 -1.8 .2 -1.3 .3 -.9 .5 -.3 .4 .3 .3 .9 .2 1.3 .1 1.8 1.3 108 0 0 1.3 -108.6 .1 -1.7 .2 -1.2 .3 -.8 .4 -.3 .4 .3 .3 .8 .2 1.2 .1 1.7 1.3 83.6 0 0 1.2 -84.1 .1 -1.6 .2 -1.1 .3 -.8 .4 -.2 .3 .2 .3 .8 .2 1.1 .1 1.6 1.3 63.3 0 0 1.3 -63.8 0 -1.5 .2 -1 .3 -.7 .3 -.2 .4 .2 .2 .7 .2 1 .1 1.5 1.3 45.6 0 0 1.2 -46.1 .1 -1.3 .2 -1 .2 -.6 .3 -.3 .4 .3 .2 .6 .2 1 0 1.3 1.3 31.4 0 0 1.3 -31.9 0 -1.2 .2 -.9 .2 -.6 .3 -.2 .3 .2 .3 .6 .1 .9 0 1.2 1.3 19.8 0 0 1.3 -20.2 .1 -1.1 .1 -.8 .2 -.5 .3 -.2 .2 .2 .3 .5 .1 .8 0 1.1 1.3 15 0 0 1.3 -12.3 .1 -2.3 .3 -1.7 .4 -1.1 .6 -.3 .5 .3 .5 1.1 .2 1.7 .1 2.3 1.3 7.4 0 0 1.3 -3.7 .2 -3.9 .4 -2.9 .8 -1.9 .9 -.6 1 .6 .7 1.9 .5 2.9 .2 3.9 1.2 32.4 0 0 1.3 -35.8 .1 -2.5 .3 -1.9 .5 -1.3 .7 -.4 .6 .4 .5 1.3 .3 1.9 .1 2.5 1.3 5.5 0 0 1.3 -8 0 -1.6 .2 -1.1 .3 -.8 .4 -.2 .4 .2 .3 .8 .2 1.1 0 1.6 1.3 11.2 0 0 1.3 -11.3 .1 -1.6 .2 -1.2 .2 -.7 .4 -.3 .4 .3 .3 .7 .2 1.2 .1 1.6 1.3 13.9 0 0 1.3 -13.9 0 -1.6 .2 -1.2 .3 -.8 .4 -.3 .5 .3 .3 .8 .2 1.2 0 1.6 1.3 16.6 0 0 1.3 -18.1 0 -1 .2 -.8 .2 -.5 .2 -.2 .3 .2 .2 .5 .1 .8 .1 1 1.3 8.2 0 0 1.3 -10.4 0 -.1 .2 -.1 .2 -.1 .3 -.1 .3 .1 .2 .1 .2 .1 0 .1 1.3 .2 0 0 1.1 -.2 .1 -.1 0 -.1 .1 -.1 0 -.1 .1 .1 .1 .1 0 .1 0 .1 1.2 .6 0 0 1.3 -.2 0 -.3 .1 -.3 .2 -.1 .2 -.1 .2 .1 .2 .1 .1 .3 .1 .3 1.2 .9 0 0 1.3 -.4 .2 -.5 .6 -.4 .9 -.3 1.2 -.1 1.3 .1 .9 .3 .6 .4 .2 .5 1.2 1.8 0 0 1.3 -.7 .2 -1 .3 -.7 .6 -.5 .9 -.2 .8 .2 .6 .5 .3 .7 .2 1 1.3 19.9 0 0 1.3 -15.6 .1 -2.8 .3 -2.1 .5 -1.3 .7 -.5 .7 .5 .6 1.3 .3 2.1 .1 2.8 1.3 34 0 0 1.3 -37.9 0 -1.2 .2 -.8 .2 -.6 .3 -.2 .3 .2 .2 .6 .1 .8 .1 1.2 1.2 18.8 0 0 1.3 -19.2 .1 -1 .1 -.7 .2 -.5 .3 -.2 .3 .2 .2 .5 .2 .7 0 1 1.3 .7 0 0 1.3 -.7 .1 -1 .3 -.7 .6 -.5 .7 -.2 .7 .2 .5 .5 .3 .7 .1 1 1.3 .7 0 0 1.3 -.7 .1 -1 .4 -.7 .5 -.5 .7 -.2 .7 .2 .5 .5 .4 .7 .1 1 1.3 .7 0 0 1.2 -.7 .1 -1 .3 -.7 .3 -.5 .5 -.2 .5 .2 .4 .5 .2 .7 .1 1 1.3 .7 0 0 1.3 -.7 .1 -1 .3 -.7 .5 -.5 .7 -.2 .6 .2 .5 .5 .3 .7 .1 1 1.3 .7 0 0 1.3 -.7 .1 -1 .2 -.7 .3 -.5 .4 -.2 .3 .2 .3 .5 .2 .7 .1 1 1.3 30.9 0 0 1.3 -27.1 .1 -2.6 .3 -1.9 .5 -1.2 .6 -.5 .6 .5 .5 1.2 .3 1.9 .1 2.6 1.3 34.6 0 0 1.3 -32.3 .1 -3.5 .5 -2.7 .6 -1.7 .9 -.6 .9 .6 .7 1.7 .4 2.7 .1 3.5 1.3 41.5 0 0 1.3 -47.6 .1 -1 .3 -.7 .5 -.5 .6 -.2 .7 .2 .5 .5 .3 .7 .1 1 1.3 .7 0 0 1.3 -2.5 0 -.2 .1 -.2 .2 -.1 .3 -.1 .3 .1 .2 .1 .1 .2 0 .2 1.3 .2M962.5 68.2l9.4 -2.7 4.4 -1.3 5.4 -1.7 6.3 .4 3.6 .1 8 .5 2.9 .1 8.6 .4 3.3 .2 8 .6 3.8 .3 7.4 .6 3.5 .2 9.9 .8 10.3 .8 6.8 19.9 6.6 -7.5 5.8 -6.4 5.1 .6 5.9 .8 5.4 9.9 5.6 10.2 4.8 -1.1 5.2 -1.2 9.9 11.9 9.9 16.9 9.9 17 9.7 27.3 9.6 29.8 9.5 39.6 9.3 38 9.2 47.5 9 41 8.9 54.6 8.8 39.7 8.7 27.6 8.5 28.7 8.4 18.5 8.2 4.9 8.1 -12.9 8 -34.3 7.8 -50.9 7.7 -61.1 7.6 -73.6 7.5 -93.8 10.9 -90.2 7.1 91 6.9 92.3 6.9 86.2 6.7 54.3 6.5 52.3 6.5 43.9 6.3 34.8 6.1 -5.3 6.1 -27.9 5.9 -28 5.7 -40.8 5.7 -45 5.5 -41.6 5.3 -42.4 5.2 -40 5.1 -30.4 5 -29.8 4.8 -36.9 4.7 -29.6 4.6 -25 4.4 -20.8 4.3 -18.2 4.1 -14.7 4 -12.1 3.9 -5.2 5.3 -4.9 7.2 28.7 5.7 -30.3 4.4 3.2 4.5 2.6 4.5 2.7 3.9 -9.9 4 -10.2 2.7 .4 3.6 .7 8.4 1.4 6.5 19.2 5.9 18.4 3.9 -19.1 4 -18.5 5.9 0 6 0 4.9 0 5.7 0 4.5 30.2 5.6 7.5 6.8 9.2 5.7 -46.9 3.8 -2.3" fill="none" stroke="#00f0f0" stroke-width="1.25" stroke-linejoin="round"/>
<path d="M964.6 63.6l0 -.6 .4 -.8 .8 -.5 1.4 -.2 1.3 .2 .9 .5 .3 .8 0 .6M974.0 62.8l0 -.7 0 -.3 .1 -.2 0 -.1 0 .1 0 .2 0 .3 0 .7M978.5 61.9l0 -.1 0 -.2 .2 -.1 .3 0 .3 0 .2 .1 .1 .2 0 .1M983.9 61.9l0 -.1 .1 -.2 .4 -.1 .5 0 .5 0 .3 .1 .1 .2 0 .1M990.2 62.0l0 -.2 -.1 -.1 -.1 -.2 -.2 0 -.2 0 -.1 .2 0 .1 0 .2M993.8 62.1l0 -.2 .2 -.2 .7 -.2 .9 0 1 0 .6 .2 .2 .2 0 .2M1001.7 62.3l0 -.2 0 -.3 -.3 -.2 -.3 -.1 -.4 .1 -.2 .2 -.1 .3 0 .2M1004.7 62.4l0 -.2 .2 -.4 .8 -.2 1.1 -.1 1.1 .1 .8 .2 .2 .4 0 .2M1013.3 62.7l0 -.6 -.1 -.3 -.2 -.2 -.3 -.1 -.3 .1 -.2 .2 0 .3 0 .6M1016.5 62.8l0 -.4 .3 -.5 .6 -.3 1 -.1 1 .1 .6 .3 .2 .5 0 .4M1024.6 63.1l0 -1 0 -.3 -.1 -.2 -.2 -.1 -.1 .1 -.1 .2 -.1 .3 0 1M1028.4 63.3l0 -.5 .2 -.7 .5 -.4 .8 -.2 .8 .2 .6 .4 .1 .7 0 .5M1035.8 63.6l0 -1.5 -.1 -.3 -.1 -.2 -.2 -.1 -.3 .1 -.1 .2 -.1 .3 0 1.5M1039.3 63.8l0 -.6 .3 -.9 1 -.6 1.4 -.2 1.5 .2 1 .6 .3 .9 0 .6M1049.1 64.2l0 -.6 .4 -1.1 1.1 -.8 1.6 -.2 1.6 .2 1 .8 .4 1.1 0 .6M1059.5 64.7l0 -.8 .2 -1.3 .4 -.8 .6 -.3 .6 .3 .4 .8 .2 1.3 0 .8M1066.2 72.1l0 -6.1 .2 -2.4 .4 -1.6 .6 -.5 .6 .5 .4 1.6 .1 2.4 0 6.1M1072.9 68.3l0 -3.9 .1 -1.5 .2 -1 .4 -.4 .4 .4 .3 1 0 1.5 0 3.9M1078.7 68.3l0 -5.4 0 -.8 .2 -.4 .1 -.2 .2 .2 .1 .4 .1 .8 0 5.4M1083.7 68.7l0 -4.1 .1 -1.6 .3 -1.1 .4 -.4 .4 .4 .3 1.1 .1 1.6 0 4.1M1089.7 69.1l0 -5.4 0 -1.2 .2 -.7 .3 -.3 .3 .3 .2 .7 0 1.2 0 5.4M1095.1 75.0l0 -11.1 .1 -1.3 .2 -.8 .3 -.3 .3 .3 .2 .8 .1 1.3 0 11.1M1100.6 80.4l0 -17.9 .1 -.5 0 -.4 .2 -.1 .1 .1 .1 .4 0 .5 0 17.9M1105.5 79.6l0 -16.3 0 -1 .2 -.6 .2 -.2 .3 .2 .1 .6 .1 1 0 16.3M1110.7 79.6l0 -7.1 .3 -5.9 1 -3.8 1.4 -1.3 1.5 1.3 1 3.8 .3 5.9 0 7.1M1120.5 86.6l0 -13.8 .4 -6.1 1 -3.8 1.5 -1.4 1.5 1.4 .9 3.8 .4 6.1 0 13.8M1130.5 96.3l0 -23.8 .4 -5.9 .9 -3.8 1.5 -1.3 1.4 1.3 1 3.8 .3 5.9 0 23.8M1140.4 106.0l0 -33.7 .3 -5.8 .9 -3.7 1.5 -1.3 1.4 1.3 .9 3.7 .4 5.8 0 33.7M1150.1 121.3l0 -49.3 .3 -5.6 .9 -3.6 1.4 -1.3 1.4 1.3 .9 3.6 .3 5.6 0 49.3M1159.7 137.9l0 -65 .3 -5.5 .9 -3.5 1.3 -1.2 1.4 1.2 .9 3.5 .3 5.5 0 65M1169.1 159.3l0 -86.4 .3 -5.3 .9 -3.5 1.3 -1.2 1.3 1.2 .9 3.5 .3 5.3 0 86.4M1178.5 178.9l0 -106.2 .3 -5.2 .8 -3.3 1.3 -1.2 1.3 1.2 .8 3.3 .3 5.2 0 106.2M1187.6 202.6l0 -129.6 .3 -5 .8 -3.3 1.3 -1.1 1.2 1.1 .9 3.3 .2 5 0 129.6M1196.7 222.3l0 -148.9 .3 -4.9 .8 -3.2 1.2 -1.1 1.2 1.1 .8 3.2 .3 4.9 0 148.9M1205.6 247.4l0 -173.6 .3 -4.8 .7 -3.1 1.2 -1.1 1.2 1.1 .8 3.1 .2 4.8 0 173.6M1214.4 264.9l0 -190.8 .3 -4.6 .7 -3 1.1 -1 1.2 1 .7 3 .3 4.6 0 190.8M1223.0 276.5l0 -202.7 .3 -4.5 .7 -2.8 1.1 -1.1 1.1 1.1 .7 2.8 .3 4.5 0 202.7M1231.6 288.0l0 -214.5 .2 -4.4 .7 -2.8 1.1 -.9 1 .9 .7 2.8 .3 4.4 0 214.5M1239.9 295.2l0 -222.1 .3 -4.2 .6 -2.7 1.1 -.9 1 .9 .7 2.7 .2 4.2 0 222.1M1248.2 292.1l0 -219.2 .2 -4 .7 -2.6 1 -1 1 1 .6 2.6 .2 4 0 219.2M1256.3 278.3l0 -205.6 .2 -3.9 .6 -2.5 1 -.9 1 .9 .6 2.5 .2 3.9 0 205.6M1264.3 256.7l0 -184.8 .2 -3.7 .6 -2.5 .9 -.8 .9 .8 .6 2.5 .3 3.7 0 184.8M1272.1 229.2l0 -158.1 .2 -3.6 .6 -2.4 .9 -.8 .9 .8 .6 2.4 .2 3.6 0 158.1M1279.8 193.8l0 -123.8 .2 -3.4 .6 -2.3 .8 -.7 .9 .7 .5 2.3 .2 3.4 0 123.8M1287.4 145.3l0 -76.3 .2 -3.3 .5 -2.2 .8 -.7 .9 .7 .5 2.2 .2 3.3 0 76.3M1294.8 95.1l0 -20.3 .4 -7.1 1.2 -4.5 1.7 -1.6 1.8 1.6 1.1 4.5 .4 7.1 0 20.3M1305.7 95.1l0 -27.1 .2 -2.9 .5 -1.9 .7 -.7 .7 .7 .5 1.9 .2 2.9 0 27.1M1312.8 145.9l0 -77.3 .2 -2.8 .5 -1.8 .6 -.6 .7 .6 .5 1.8 .2 2.8 0 77.3M1319.8 194.0l0 -124 .2 -2.7 .4 -1.7 .7 -.6 .6 .6 .4 1.7 .2 2.7 0 124M1326.6 235.6l0 -164.3 .2 -2.5 .4 -1.6 .6 -.6 .6 .6 .5 1.6 .1 2.5 0 164.3M1333.3 260.3l0 -188.3 .2 -2.4 .4 -1.5 .6 -.6 .5 .6 .4 1.5 .2 2.4 0 188.3M1339.9 282.5l0 -210 .1 -2.2 .4 -1.5 .6 -.5 .5 .5 .4 1.5 .1 2.2 0 210M1346.3 300.4l0 -227.4 .2 -2.1 .3 -1.3 .5 -.5 .5 .5 .4 1.3 .1 2.1 0 227.4M1352.6 311.7l0 -239 .2 -1.9 .3 -1.3 .5 -.4 .4 .4 .4 1.3 .1 1.9 0 239M1358.8 301.2l0 -228.7 .1 -1.8 .3 -1.2 .5 -.4 .4 .4 .3 1.2 .1 1.8 0 228.7M1364.8 290.2l0 -218 .1 -1.7 .3 -1 .4 -.4 .4 .4 .3 1 .1 1.7 0 218M1370.7 273.5l0 -201.8 .1 -1.5 .3 -1 .3 -.4 .4 .4 .3 1 .1 1.5 0 201.8M1376.5 254.1l0 -182.9 .1 -1.4 .2 -.9 .3 -.3 .4 .3 .2 .9 .1 1.4 0 182.9M1382.1 235.3l0 -164.7 .1 -1.2 .2 -.8 .3 -.3 .3 .3 .2 .8 .1 1.2 0 164.7M1387.6 215.2l0 -145.5 .1 -1.1 .2 -.7 .2 -.2 .3 .2 .2 .7 0 1.1 0 145.5M1393.0 195.5l0 -126.7 0 -1 .2 -.6 .2 -.2 .3 .2 .1 .6 .1 1 0 126.7M1398.2 179.8l0 -112.1 .1 -.8 .1 -.5 .2 -.2 .2 .2 .1 .5 .1 .8 0 112.1M1403.3 164.2l0 -97.6 0 -.7 .1 -.4 .2 -.1 .2 .1 .1 .4 0 .7 0 97.6M1408.3 144.5l0 -78.6 0 -.5 .1 -.3 .1 -.2 .1 .2 .1 .3 0 .5 0 78.6M1413.1 128.3l0 -63 0 -.3 .1 -.3 .1 -.1 0 .1 .1 .3 0 .3 0 63M1417.8 114.2l0 -49.3 0 -.3 0 -.2 .1 -.1 0 .1 .1 .2 0 .3 0 49.3M1422.3 102.4l0 -37.7 0 -.3 0 -.3 .1 0 0 0 0 .3 0 .3 0 37.7M1426.7 91.8l0 -27.4 0 -.3 0 -.2 0 0 0 0 0 .2 0 .3 0 27.4M1431.0 83.2l0 -19 0 -.3 0 -.2 -.1 0 0 0 0 .2 -.1 .3 0 19M1435.2 76.0l0 -12 0 -.3 -.1 -.2 -.1 -.1 -.1 .1 0 .2 0 .3 0 12M1439.2 72.9l0 -9 0 -.3 -.1 -.2 -.1 -.1 -.2 .1 0 .2 -.1 .3 0 9M1443.1 69.9l0 -4.8 0 -1 .2 -.7 .3 -.2 .2 .2 .2 .7 0 1 0 4.8M1448.4 69.9l0 -1.7 .2 -2.8 .5 -1.8 .7 -.6 .8 .6 .5 1.8 .2 2.8 0 1.7M1455.6 68.8l0 -3.4 .1 -1.4 .2 -.9 .4 -.3 .3 .3 .2 .9 .1 1.4 0 3.4M1461.2 68.8l0 -5.5 .1 -.4 0 -.2 0 0 0 0 0 .2 0 .4 0 5.5M1465.7 70.6l0 -7.5 0 -.3 0 -.2 0 -.1 .1 .1 0 .2 0 .3 0 7.5M1470.1 72.1l0 -9.1 .1 -.3 0 -.2 0 -.1 .1 .1 0 .2 0 .3 0 9.1M1474.7 67.8l0 -4.9 0 -.3 -.1 -.2 -.2 -.1 -.1 .1 -.1 .2 0 .3 0 4.9M1478.5 62.6l0 -.1 0 -.1 0 -.1 -.1 -.1 -.1 .1 0 .1 -.1 .1 0 .1M1482.4 62.6l0 -.1 0 -.1 -.3 -.1 -.4 -.1 -.3 .1 -.3 .1 0 .1 0 .1M1485.2 62.6l0 -.1 0 -.1 -.1 -.1 -.2 -.1 -.2 .1 -.1 .1 0 .1 0 .1M1488.9 62.6l0 -.1 .3 -.1 .7 -.1 1 -.1 1.1 .1 .7 .1 .3 .1 0 .1M1497.3 63.2l0 -.2 .1 -.4 .4 -.3 .6 -.1 .5 .1 .4 .3 .1 .4 0 .2M1503.7 74.6l0 -9.2 .1 -1.7 .3 -1.1 .4 -.4 .5 .4 .2 1.1 .1 1.7 0 9.2M1509.7 74.2l0 -11.4 -.1 -.3 0 -.2 -.1 -.1 -.1 .1 -.1 .2 0 .3 0 11.4M1513.6 63.2l0 -.4 0 -.3 -.1 -.2 -.1 -.1 -.1 .1 0 .2 -.1 .3 0 .4M1517.6 63.2l0 -.2 .1 -.4 .2 -.3 .5 -.1 .4 .1 .3 .3 .1 .4 0 .2M1523.5 63.2l0 -.2 .1 -.4 .3 -.3 .4 -.1 .4 .1 .3 .3 .1 .4 0 .2M1529.4 63.2l0 -.2 .1 -.4 .1 -.3 .1 -.1 .2 .1 .1 .3 0 .4 0 .2M1534.4 63.2l0 -.2 .1 -.4 .2 -.3 .4 -.1 .3 .1 .3 .3 .1 .4 0 .2M1540.1 63.2l0 -.4 0 -.3 0 -.2 .1 -.1 0 .1 0 .2 0 .3 0 .4M1544.6 81.1l0 -16.3 0 -1.4 .3 -.8 .3 -.4 .3 .4 .3 .8 0 1.4 0 16.3M1550.2 85.4l0 -18.2 .1 -2.7 .5 -1.6 .6 -.7 .7 .7 .4 1.6 .2 2.7 0 18.2M1557.0 63.2l0 -.2 .1 -.4 .2 -.3 .3 -.1 .4 .1 .2 .3 .1 .4 0 .2M1562.6 62.6l0 -.1 0 -.1 -.1 -.1 -.1 -.1 -.1 .1 -.1 .1 -.1 .1 0 .1" fill="none" stroke="url(#ngb)" stroke-width="1.15" stroke-linejoin="round"/>
</g>
<clipPath id="clipc"><rect x="78.5" y="689.8" width="571.9" height="548.0"/></clipPath>
<g clip-path="url(#clipc)">
<path d="M109.3 739.0l6.2 39.6 6.3 -6.2 18.7 170.9 12.5 -55.1 6.3 3 10.4 95.8 8.3 -38.7 10.5 17.9 10.4 43.8 6.2 2 10.5 39.6 12.5 29.2 16.6 25 10.5 2.1 20.8 11.3 14.6 -4.2 12.5 -.8 8.3 -16.7 12.5 -83.4 12.5 -110.4 8.4 85.4 16.7 116.7 12.5 37.6 8.3 -14.6 8.3 1.2 8.4 2.9 12.5 -16.6 12.5 -14.6 8.3 -18.8 10.4 -25 12.5 -64.6 12.5 -16.7 27.1 -187.6 6.3 -7.5 6.3 9.6 8.3 75.1 10.4 -54.2 16.7 -9.6 10.4 9.6 10.4 183.4" fill="none" stroke="#262626" stroke-width="1.45" stroke-linejoin="round"/>
<path d="M109.3 751.5l6.2 41.7 6.3 -.8 18.7 217.6 12.5 -70.9 6.3 -2.1 10.4 118.8 8.3 -41.7 10.5 37.5 10.4 45.9 6.2 0 18.8 52.1 25 31.3 27.1 10.4 18.8 -3.3 10.4 -7.1 18.7 -87.6 10.5 -152.1 10.4 110.4 16.7 131.4 12.5 12.5 16.6 2.1 20.9 -12.6 16.7 -25 12.5 -20.8 12.5 -62.5 14.5 -54.2 10.5 -85.5 16.6 -127.1 4.2 -12.5 8.4 4.2 10.4 95.8 10.4 -22.9 12.5 -37.5 4.2 1.2 8.3 9.2 10.4 50" fill="none" stroke="#ff2a2a" stroke-width="1.45" stroke-linejoin="round"/>
<path d="M109.3 753.6l6.2 44.6 6.3 0 18.7 230.5 12.5 -77.9 6.3 -1.3 10.4 110.5 8.3 -31.3 10.5 35.5 10.4 50 6.2 .8 18.8 47.1 25 31.3 27.1 8.3 18.8 -2.1 10.4 -8.3 18.7 -89.6 10.5 -154.3 10.4 112.6 16.7 133.4 12.5 12.5 16.6 2.1 20.9 -12.5 16.7 -23 12.5 -25 12.5 -58.3 14.5 -58.4 10.5 -79.2 16.6 -137.6 4.2 -10.4 8.4 6.3 10.4 97.9 10.4 -29.1 12.5 -31.3 4.2 .8 8.3 9.6 10.4 64.6" fill="none" stroke="#2a2aff" stroke-width="1.45" stroke-linejoin="round"/>
<linearGradient id="ngc" gradientUnits="userSpaceOnUse" x1="0" y1="740.0" x2="0" y2="1000.0"><stop offset="0" stop-color="#1c2d72" stop-opacity="1"/><stop offset="0.18" stop-color="#1c2d72" stop-opacity="0.85"/><stop offset="0.6" stop-color="#1c2d72" stop-opacity="0.2"/><stop offset="1" stop-color="#1c2d72" stop-opacity="0"/></linearGradient>
<path d="M107.5 830.0l.2 -15.6 .2 -20.8 .2 -26.1 .1 -41.6 .1 -2.7 .3 -3.3 .5 -2.6 .3 -1 .3 1 .5 2.6 .3 3.3 .1 2.7 .1 48.6 .2 30.4 .2 24.3 .2 18.2 0 0 .3 -18.4 .3 -24.6 .3 -30.8 .3 -49.1 .1 -2.7 .3 -3.4 .4 -2.6 .3 -.9 .4 .9 .4 2.6 .3 3.4 .1 2.7 .3 51 .3 31.9 .3 25.5 .3 19.2 0 0 .4 -19.8 .5 -26.3 .4 -33 .4 -52.7 .1 -2.7 .3 -3.4 .5 -2.6 .3 -1 .3 1 .5 2.6 .3 3.4 .1 2.7 .4 55 .4 34.4 .5 27.5 .4 20.6 0 0 .3 -19.8 .4 -26.4 .4 -33 .3 -52.9 .1 -2.6 .3 -3.4 .5 -2.6 .3 -1 .3 1 .5 2.6 .3 3.4 .1 2.6 .3 80.9 .4 50.6 .4 40.4 .3 30.3 0 0 .4 -26.7 .5 -35.6 .5 -44.6 .3 -71.3 .2 -2.8 .3 -3.5 .4 -2.7 .4 -1.1 .4 1.1 .4 2.7 .3 3.5 .2 2.8 .3 103.7 .5 64.8 .5 51.8 .4 38.9 0 0 .2 -40.3 .2 -53.7 .2 -67.1 .2 -107.4 .1 -2.7 .3 -3.4 .5 -2.6 .3 -.9 .3 .9 .4 2.6 .4 3.4 .1 2.7 .2 128.8 .2 80.5 .2 64.4 .2 48.3 0 0 .1 -48.3 .2 -64.4 .1 -80.6 .1 -128.9 .2 -2.7 .3 -3.3 .4 -2.6 .3 -1 .4 1 .4 2.6 .3 3.3 .1 2.7 .2 147.9 .1 92.5 .2 73.9 .1 55.5 0 0 .4 -55.7 .4 -74.3 .4 -92.9 .3 -148.6 .2 -2.7 .3 -3.4 .4 -2.6 .3 -.9 .4 .9 .4 2.6 .3 3.4 .1 2.7 .4 140.4 .4 87.7 .4 70.2 .4 52.6 0 0 .4 -52.5 .5 -69.9 .5 -87.4 .4 -140 .1 -2.8 .4 -3.7 .4 -2.8 .4 -1.1 .4 1.1 .4 2.8 .4 3.7 .1 2.8 .4 130.7 .5 81.6 .5 65.3 .4 49 0 0 .4 -49 .5 -65.4 .4 -81.7 .4 -130.8 .1 -2.7 .3 -3.4 .5 -2.7 .3 -1 .3 1 .5 2.7 .3 3.4 .1 2.7 .4 143.5 .4 89.6 .5 71.8 .4 53.8 0 0 .4 -53.8 .4 -71.8 .4 -89.6 .4 -143.5 .1 -2.7 .3 -3.4 .4 -2.5 .4 -1 .3 1 .4 2.5 .3 3.4 .2 2.7 .3 155.5 .4 97.2 .4 77.8 .4 58.3 0 0 .4 -58.6 .5 -78.3 .5 -97.7 .4 -156.4 .1 -2.9 .4 -3.7 .4 -2.8 .4 -1.1 .4 1.1 .4 2.8 .4 3.7 .1 2.9 .4 170 .5 106.2 .5 85 .4 63.8 0 0 .4 -63.9 .4 -85.3 .3 -106.5 .4 -170.5 .1 -2.7 .3 -3.3 .4 -2.6 .4 -1 .3 1 .4 2.6 .3 3.3 .1 2.7 .4 172.6 .3 107.9 .4 86.3 .4 64.7 0 0 .3 -64.6 .4 -86.2 .4 -107.8 .3 -172.3 .1 -2.7 .3 -3.4 .4 -2.6 .4 -.9 .3 .9 .4 2.6 .3 3.4 .2 2.7 .2 174.4 .4 109 .4 87.2 .3 65.4 0 0 .4 -64.6 .6 -86.1 .5 -107.6 .3 -172.3 .2 -2.9 .3 -3.8 .5 -2.9 .4 -1.1 .4 1.1 .4 2.9 .4 3.8 .1 2.9 .4 179.6 .5 112.2 .5 89.8 .5 67.3 0 0 .5 -65.3 .7 -87 .6 -108.8 .5 -174.1 .2 -3.8 .4 -4.8 .6 -3.7 .5 -1.3 .5 1.3 .6 3.7 .5 4.8 .1 3.8 .5 183.4 .7 114.6 .6 91.7 .6 68.8 0 0 .5 -70.6 .7 -94.2 .6 -117.7 .5 -188.3 .2 -3.7 .4 -4.8 .6 -3.7 .5 -1.3 .5 1.3 .6 3.7 .4 4.8 .2 3.7 .5 192 .6 119.9 .7 96 .6 72 0 0 .5 -70.9 .7 -94.5 .6 -118.1 .5 -189 .2 -3.7 .4 -4.8 .6 -3.6 .5 -1.4 .4 1.4 .6 3.6 .5 4.8 .2 3.7 .5 190.5 .6 119 .6 95.2 .6 71.4 0 0 .6 -67.7 .6 -90.2 .6 -112.8 .5 -180.5 .2 -3.7 .4 -4.8 .6 -3.6 .5 -1.3 .5 1.3 .5 3.6 .5 4.8 .2 3.7 .5 181.9 .6 113.7 .6 91 .6 68.2 0 0 .5 -69 .7 -92.1 .6 -115 .5 -184.1 .2 -3.8 .4 -4.7 .6 -3.6 .5 -1.3 .4 1.3 .6 3.6 .5 4.7 .1 3.8 .5 185 .7 115.7 .6 92.5 .6 69.4 0 0 .5 -69.5 .6 -92.7 .7 -115.8 .5 -185.4 .1 -3.7 .5 -4.7 .6 -3.6 .4 -1.3 .5 1.3 .6 3.6 .4 4.7 .2 3.7 .5 186.2 .6 116.4 .6 93.2 .6 69.8 0 0 .5 -67.8 .7 -90.4 .6 -113.1 .5 -180.8 .1 -3.7 .5 -4.7 .6 -3.5 .4 -1.4 .5 1.4 .6 3.5 .4 4.7 .2 3.7 .5 181 .6 113.2 .6 90.5 .6 67.9 0 0 .5 -69.5 .6 -92.8 .7 -115.9 .4 -185.4 .2 -3.7 .4 -4.6 .6 -3.6 .5 -1.3 .4 1.3 .6 3.6 .5 4.6 .1 3.7 .5 185.4 .6 115.9 .7 92.8 .5 69.5 0 0 .6 -69.2 .6 -92.3 .6 -115.4 .5 -184.7 .1 -3.6 .5 -4.6 .6 -3.6 .4 -1.3 .5 1.3 .5 3.6 .5 4.6 .2 3.6 .4 184.7 .6 115.4 .7 92.3 .5 69.2 0 0 .6 -66.7 .6 -89 .6 -111.3 .5 -177.9 .1 -3.7 .5 -4.6 .6 -3.5 .4 -1.3 .5 1.3 .5 3.5 .5 4.6 .1 3.7 .5 177.9 .6 111.3 .6 89 .6 66.7 0 0 .5 -65.6 .7 -87.4 .6 -109.3 .4 -174.9 .2 -3.6 .4 -4.6 .6 -3.5 .5 -1.3 .4 1.3 .6 3.5 .4 4.6 .2 3.6 .5 174.9 .6 109.3 .6 87.4 .5 65.6 0 0 .6 -67.8 .6 -90.5 .6 -113.1 .5 -180.9 .1 -3.6 .5 -4.5 .5 -3.5 .5 -1.3 .4 1.3 .6 3.5 .4 4.5 .2 3.6 .5 180.9 .6 113.1 .6 90.5 .5 67.8 0 0 .6 -67.7 .6 -90.4 .6 -112.9 .4 -180.6 .2 -3.6 .4 -4.6 .6 -3.4 .4 -1.3 .5 1.3 .6 3.4 .4 4.6 .2 3.6 .4 180.6 .6 112.9 .6 90.4 .6 67.7 0 0 .5 -68.1 .6 -90.8 .6 -113.4 .5 -181.6 .1 -3.6 .5 -4.5 .5 -3.4 .5 -1.3 .4 1.3 .6 3.4 .4 4.5 .2 3.6 .5 181.6 .5 113.4 .7 90.8 .5 68.1 0 0 .5 -68 .6 -90.6 .6 -113.3 .5 -181.3 .2 -3.6 .4 -4.5 .5 -3.4 .5 -1.3 .4 1.3 .6 3.4 .4 4.5 .2 3.6 .4 181.3 .6 113.3 .6 90.6 .6 68 0 0 .5 -65.9 .6 -87.8 .6 -109.8 .5 -175.6 .1 -3.5 .5 -4.5 .5 -3.4 .4 -1.3 .5 1.3 .5 3.4 .5 4.5 .1 3.5 .5 175.6 .6 109.8 .6 87.8 .5 65.8 0 0 .5 -70.9 .6 -94.5 .6 -118.2 .5 -189 .2 -3.5 .4 -4.5 .5 -3.4 .5 -1.2 .4 1.2 .6 3.4 .4 4.5 .1 3.5 .5 188.2 .6 117.6 .6 94.1 .5 70.5 0 0 .5 -71.5 .6 -95.3 .6 -119.2 .5 -190.7 .1 -3.5 .5 -4.4 .5 -3.4 .5 -1.3 .4 1.3 .5 3.4 .5 4.4 .1 3.5 .5 186.2 .6 116.4 .6 93.1 .5 69.8 0 0 .9 -70.5 1 -93.9 1.1 -117.5 .8 -187.9 .1 -4 .5 -5.1 .7 -3.9 .5 -1.4 .5 1.4 .6 3.9 .5 5.1 .2 4 .7 147 1.1 91.9 1 73.5 .9 55.2 0 0 .5 -54.9 .6 -73.1 .6 -91.3 .5 -146.3 .1 -3.4 .4 -4.4 .6 -3.3 .4 -1.2 .4 1.2 .6 3.3 .4 4.4 .2 3.4 .4 187.4 .6 117.1 .6 93.7 .5 70.2 0 0 .5 -67.9 .6 -90.5 .6 -113.2 .4 -181.1 .2 -3.4 .4 -4.4 .5 -3.3 .5 -1.2 .4 1.2 .5 3.3 .4 4.4 .2 3.4 .4 185.9 .6 116.1 .6 93 .5 69.7 0 0 .5 -67.7 .6 -90.3 .6 -112.7 .4 -180.5 .2 -3.4 .4 -4.3 .5 -3.3 .5 -1.3 .4 1.3 .5 3.3 .4 4.3 .2 3.4 .4 180.8 .6 113.1 .6 90.4 .5 67.8 0 0 .5 -65.9 .6 -87.9 .6 -109.8 .4 -175.8 .2 -3.4 .4 -4.3 .5 -3.3 .4 -1.2 .5 1.2 .5 3.3 .4 4.3 .2 3.4 .4 175.8 .6 109.8 .6 87.9 .5 65.9 0 0 .5 -63.1 .6 -84.2 .5 -105.2 .5 -168.4 .1 -3.4 .4 -4.2 .6 -3.3 .4 -1.2 .4 1.2 .5 3.3 .4 4.2 .2 3.4 .4 168.4 .6 105.2 .6 84.2 .5 63.1 0 0 .5 -61.9 .6 -82.6 .5 -103.3 .5 -165.2 .1 -3.3 .4 -4.3 .6 -3.3 .4 -1.2 .4 1.2 .5 3.3 .4 4.3 .2 3.3 .4 165.2 .6 103.3 .6 82.6 .5 61.9 0 0 .5 -64.2 .5 -85.7 .6 -107.1 .4 -171.3 .2 -3.4 .4 -4.2 .5 -3.2 .4 -1.2 .5 1.2 .5 3.2 .4 4.2 .1 3.4 .5 171.3 .5 107.1 .6 85.7 .5 64.2 0 0 .5 -64 .6 -85.4 .5 -106.8 .5 -170.8 .1 -3.3 .4 -4.2 .6 -3.2 .4 -1.2 .4 1.2 .5 3.2 .4 4.2 .2 3.3 .4 170.8 .6 106.8 .5 85.4 .5 64 0 0 .5 -63.5 .6 -84.6 .5 -105.7 .5 -169.3 .1 -3.3 .4 -4.1 .5 -3.2 .5 -1.2 .4 1.2 .5 3.2 .4 4.1 .1 3.3 .5 169.3 .5 105.7 .6 84.6 .5 63.5 0 0 .5 -63.4 .5 -84.5 .6 -105.7 .4 -169.1 .2 -3.3 .4 -4.1 .5 -3.2 .4 -1.2 .4 1.2 .5 3.2 .4 4.1 .2 3.3 .4 169.1 .6 105.7 .5 84.5 .5 63.4 0 0 .5 -64.2 .6 -85.6 .5 -106.9 .4 -171.2 .2 -3.3 .4 -4.1 .5 -3.2 .4 -1.2 .4 1.2 .5 3.2 .4 4.1 .2 3.3 .4 171.2 .6 106.9 .5 85.6 .5 64.2 0 0 .5 -66.3 .6 -88.5 .5 -110.6 .4 -176.9 .2 -3.2 .4 -4.1 .5 -3.2 .4 -1.2 .4 1.2 .5 3.2 .4 4.1 .1 3.2 .5 176.9 .5 110.6 .6 88.5 .5 66.3 0 0 .4 -67.4 .6 -89.8 .5 -112.2 .5 -179.7 .1 -3.2 .4 -4.1 .5 -3.1 .4 -1.2 .4 1.2 .5 3.1 .4 4.1 .2 3.2 .4 179.7 .5 112.2 .6 89.8 .5 67.4 0 0 .5 -66.4 .5 -88.6 .5 -110.7 .5 -177.1 .1 -3.2 .4 -4.1 .5 -3.1 .4 -1.2 .4 1.2 .5 3.1 .4 4.1 .2 3.2 .4 176.3 .5 110.3 .6 88.1 .4 66.2 0 0 .5 -68.3 .6 -91.1 .5 -113.9 .4 -182.2 .2 -3.1 .4 -4.1 .5 -3.1 .4 -1.1 .4 1.1 .5 3.1 .4 4.1 .1 3.1 .4 181.2 .6 113.2 .5 90.6 .5 68 0 0 .5 -68.1 .5 -90.6 .5 -113.4 .5 -181.3 .1 -3.2 .4 -4 .5 -3.1 .4 -1.1 .4 1.1 .5 3.1 .4 4 .1 3.2 .4 175.1 .6 109.5 .5 87.6 .5 65.7 0 0 .5 -66.7 .5 -89 .5 -111.1 .4 -177.9 .2 -3.1 .4 -4 .5 -3.1 .4 -1.1 .4 1.1 .5 3.1 .3 4 .2 3.1 .4 167.9 .5 104.9 .6 84 .4 62.9 0 0 .5 -66 .6 -88 .5 -110.1 .4 -176 .1 -3.1 .4 -4 .5 -3.1 .4 -1.1 .4 1.1 .5 3.1 .4 4 .1 3.1 .4 161.1 .6 100.7 .5 80.5 .5 60.4 0 0 .4 -60.1 .6 -80.2 .5 -100.2 .4 -160.4 .1 -3.1 .4 -4 .5 -3 .4 -1.1 .4 1.1 .5 3 .4 4 .1 3.1 .4 144.4 .5 90.3 .6 72.2 .5 54.2 0 0 .4 -54.9 .6 -73.2 .5 -91.5 .4 -146.3 .1 -3.1 .4 -4 .5 -3 .4 -1.1 .4 1.1 .5 3 .3 4 .2 3.1 .4 130.3 .5 81.5 .5 65.1 .5 48.9 0 0 .6 -50.1 .6 -66.8 .6 -83.4 .5 -133.6 .2 -3.7 .4 -4.7 .6 -3.7 .5 -1.3 .5 1.3 .6 3.7 .4 4.7 .2 3.7 .5 101.9 .6 63.7 .6 50.9 .6 38.2 0 0 .3 -39.7 .4 -53 .3 -66.3 .3 -106 .1 -2.7 .3 -3.4 .5 -2.6 .3 -.9 .3 .9 .5 2.6 .3 3.4 .1 2.7 .3 83.3 .3 52 .4 41.7 .3 31.2 0 0 .4 -31.3 .5 -41.7 .5 -52.2 .3 -83.4 .1 -2.8 .4 -3.5 .4 -2.7 .4 -1 .3 1 .4 2.7 .4 3.5 .1 2.8 .3 56.6 .5 35.4 .5 28.4 .4 21.2 0 0 .2 -20.8 .2 -27.8 .3 -34.7 .2 -55.5 .1 -2.7 .3 -3.4 .4 -2.6 .4 -.9 .3 .9 .4 2.6 .3 3.4 .2 2.7 .1 55.5 .3 34.7 .2 27.8 .2 20.8 0 0 .2 -20.8 .3 -27.8 .2 -34.6 .2 -55.5 .2 -2.7 .3 -3.4 .4 -2.6 .4 -.9 .3 .9 .4 2.6 .3 3.4 .2 2.7 .2 55.5 .2 34.6 .3 27.8 .2 20.8 0 0 .3 -19.8 .4 -26.4 .4 -32.9 .3 -52.8 .1 -2.7 .3 -3.3 .5 -2.6 .3 -1 .3 1 .5 2.6 .3 3.3 .1 2.7 .3 75.3 .4 47 .4 37.7 .3 28.2 0 0 .3 -24.4 .4 -32.4 .4 -40.7 .3 -64.9 .1 -2.7 .3 -3.4 .5 -2.6 .3 -.9 .3 .9 .5 2.6 .3 3.4 .1 2.7 .3 87.5 .4 54.6 .4 43.8 .3 32.8 0 0 .4 -35 .4 -46.7 .3 -58.3 .4 -93.4 .1 -2.6 .3 -3.4 .4 -2.6 .4 -1 .3 1 .4 2.6 .3 3.4 .2 2.6 .3 84 .3 52.5 .4 42 .4 31.5 0 0 .3 -33.6 .4 -44.9 .4 -56.1 .2 -89.7 .2 -2.6 .3 -3.4 .4 -2.6 .4 -1 .3 1 .4 2.6 .3 3.4 .2 2.6 .2 80.7 .4 50.5 .4 40.3 .3 30.3 0 0 .2 -30.7 .2 -40.9 .2 -51.1 .1 -81.8 .2 -2.6 .3 -3.4 .4 -2.6 .3 -1 .4 1 .4 2.6 .3 3.4 .1 2.6 .2 87.3 .2 54.6 .2 43.6 .2 32.7 0 0 .2 -32.9 .3 -44 .3 -55 .2 -87.9 .1 -2.6 .3 -3.4 .5 -2.6 .3 -1 .3 1 .5 2.6 .3 3.4 .1 2.6 .2 94.1 .3 58.9 .3 47 .2 35.3 0 0 .3 -35.9 .4 -47.9 .4 -59.9 .3 -95.9 .1 -2.6 .3 -3.4 .4 -2.6 .4 -1 .3 1 .4 2.6 .3 3.4 .2 2.6 .2 94.3 .4 58.8 .4 47.1 .3 35.4 0 0 .4 -32.8 .4 -43.6 .4 -54.6 .3 -87.4 .1 -2.6 .3 -3.4 .5 -2.6 .3 -1 .3 1 .5 2.6 .3 3.4 .1 2.6 .3 85.7 .4 53.5 .4 42.8 .4 32.1 0 0 .2 -32.3 .2 -43 .3 -53.8 .2 -86.1 .1 -2.7 .3 -3.4 .4 -2.5 .4 -1 .3 1 .4 2.5 .3 3.4 .2 2.7 .1 89.8 .3 56.1 .2 44.9 .2 33.6 0 0 .2 -34.9 .3 -46.6 .2 -58.2 .2 -93.2 .1 -2.7 .3 -3.4 .5 -2.6 .3 -.9 .3 .9 .5 2.6 .3 3.4 .1 2.7 .2 96.9 .2 60.6 .3 48.5 .2 36.4 0 0 .2 -34.6 .3 -46.2 .2 -57.8 .3 -92.3 .1 -2.7 .3 -3.4 .4 -2.6 .4 -.9 .3 .9 .4 2.6 .3 3.4 .2 2.7 .2 113.9 .2 71.3 .3 56.9 .2 42.8 0 0 .2 -35.7 .2 -47.6 .2 -59.6 .2 -95.2 .1 -2.7 .3 -3.3 .5 -2.6 .3 -1 .3 1 .5 2.6 .3 3.3 .1 2.7 .2 115.3 .2 72.1 .2 57.7 .2 43.2 0 0 0 -39.4 -.1 -52.6 0 -65.7 -.1 -105.2 .2 -2.6 .3 -3.4 .4 -2.6 .4 -1 .3 1 .4 2.6 .3 3.4 .2 2.6 -.1 124.4 0 77.7 -.1 62.2 0 46.6 0 0 0 -46.5 -.1 -62.1 0 -77.5 -.1 -124.1 .2 -2.6 .3 -3.4 .4 -2.6 .4 -1 .3 1 .4 2.6 .3 3.4 .2 2.6 -.1 72.6 0 45.3 -.1 36.3 0 27.2M107.5 830.0l3.8 17.4 4.7 4.7 5.8 5.7 5.2 70.1 6 81 4 53.5 3.5 47.6 5.5 -20.6 6.2 -23.2 5.8 31.8 5.5 30.1 6.2 34 5.3 5.3 5.1 5.1 6.4 18.3 8.1 23.3 8.1 9.1 8 3.6 8 3.6 8 2.4 7.9 2.2 7.9 .5 7.8 0 7.8 0 7.8 0 7.7 0 7.7 0 7.7 0 7.6 0 7.6 0 7.5 -.1 7.5 -2.2 7.5 -11.2 11.1 -102.2 7.4 102.8 7.3 12 7.3 .9 7.3 0 7.2 0 7.2 0 7.1 0 7.1 0 7.1 0 7 0 7 0 7 0 6.9 0 6.8 -1.9 6.9 -2.5 6.8 -15.5 6.7 -25 6.8 -37.4 6.7 -39.8 6.6 -40.1 8 -79.2 5 -56.8 5.9 -67 4.1 0 4.3 0 5.2 56.3 5.2 56.3 5.3 -23.4 5.1 -22.5 3.9 13.7 4.4 15.5 5.1 -4 5.4 -4.3 4.1 9.2 4.2 9.5 4.3 54 4 50.2 2.1 48 2.1 -128.8M116.0 842.2l0 -113.1 .1 -4.1 .5 -5.5 .3 -2.4 .3 2.4 .4 5.5 .2 4.1 0 113.1M144.6 846.6l0 -83.1 .2 -4.2 .4 -5.5 .3 -2.3 .3 2.3 .4 5.5 .2 4.2 0 83.1M151.8 855.2l0 -105 .2 -4.1 .4 -5.5 .3 -2.4 .3 2.4 .4 5.5 .2 4.1 0 105M209.2 981.1l0 -200.5 .2 -4.1 .4 -5.5 .3 -2.4 .4 2.4 .4 5.5 .1 4.1 0 200.5M217.0 958.9l0 -184.2 .2 -4.1 .4 -5.5 .3 -2.4 .3 2.4 .4 5.5 .2 4.1 0 184.2M233.8 948.9l0 -181.7 .2 -4.1 .4 -5.5 .3 -2.4 .3 2.4 .4 5.5 .2 4.1 0 181.7M288.0 952.7l0 -144.2 .2 -4.1 .4 -5.5 .3 -2.4 .3 2.4 .4 5.5 .2 4.1 0 144.2M326.0 872.0l0 -114.2 .2 -4.1 .4 -5.5 .3 -2.4 .4 2.4 .4 5.5 .1 4.1 0 114.2M401.7 963.9l0 -148.7 .1 -4.1 .4 -5.5 .4 -2.4 .3 2.4 .4 5.5 .2 4.1 0 148.7M415.4 929.5l0 -119.7 .2 -4.1 .4 -5.5 .3 -2.4 .3 2.4 .4 5.5 .2 4.1 0 119.7M471.0 857.7l0 -96.3 .2 -4.2 .4 -5.5 .3 -2.3 .3 2.3 .4 5.5 .2 4.2 0 96.3M500.7 809.5l0 -71.9 .2 -4.2 .4 -5.5 .3 -2.3 .3 2.3 .4 5.5 .2 4.2 0 71.9M525.0 876.1l0 -126.9 .2 -4.1 .4 -5.5 .3 -2.4 .3 2.4 .4 5.5 .2 4.1 0 126.9M533.2 844.7l0 -99.8 .2 -4.1 .4 -5.5 .3 -2.4 .3 2.4 .4 5.5 .2 4.1 0 99.8" fill="none" stroke="#00f0f0" stroke-width="1.35" stroke-linejoin="round"/>
<path d="M109.4 717.8l0 30.8M113.7 716.4l0 34.7M118.9 712.1l0 26M124.4 717.6l0 25.2M130.0 741.1l0 32.4M135.0 732.3l0 22.5M138.7 732.1l0 36.7M143.2 730.4l0 31.9M149.1 730.7l0 36.1M155.1 731.0l0 27.3M160.8 731.2l0 35.7M166.6 728.1l0 24.3M172.3 727.8l0 37.6M177.6 728.4l0 29.2M183.3 732.7l0 36.5M190.5 743.5l0 35.7M198.6 731.3l0 24.4M206.7 738.7l0 24.6M214.7 763.7l0 35.8M222.7 758.3l0 25.1M230.6 757.6l0 31.9M238.5 771.1l0 33M246.4 760.2l0 25.4M254.2 762.3l0 30.6M262.0 779.0l0 30.2M269.8 786.8l0 37M277.5 771.8l0 35.6M285.1 772.5l0 26.2M292.8 770.3l0 29.9M300.4 771.0l0 24.9M307.9 785.2l0 37.2M315.5 751.7l0 37.1M323.0 745.4l0 32.4M332.3 739.3l0 26.6M341.5 743.4l0 38M348.9 759.1l0 25.7M356.2 772.6l0 36M363.4 785.4l0 24.2M370.7 804.0l0 23.8M377.9 811.9l0 28.1M385.0 796.7l0 35.3M392.2 798.1l0 24M399.3 802.1l0 31M406.3 802.5l0 30.5M413.3 797.3l0 35.2M420.3 783.0l0 34.7M427.2 776.3l0 23.7M434.1 782.6l0 29.5M441.0 768.2l0 23.2M447.8 767.8l0 36.5M454.6 761.1l0 32.8M461.3 740.7l0 26.3M468.0 742.6l0 22.5M474.7 737.8l0 31M482.0 727.5l0 24.8M488.5 721.0l0 32.2M493.9 720.2l0 36M498.9 723.4l0 32.1M503.1 723.5l0 37.7M507.9 730.3l0 31.4M513.1 756.1l0 32.7M518.4 741.4l0 32.6M523.5 727.1l0 27.4M528.0 724.4l0 36.1M532.2 722.8l0 27.1M537.0 718.5l0 30.3M542.2 735.7l0 27.8M547.0 734.6l0 24M551.1 726.1l0 25.5M555.4 737.6l0 34.6M559.5 784.4l0 24.5M562.5 809.8l0 36.7M564.7 810.5l0 31.6" fill="none" stroke="#1c2d72" stroke-width="0.9" stroke-linejoin="round" stroke-opacity="0.95"/>
<path d="M109.4 748.6l0 81.4M113.7 751.1l0 64.8M118.9 738.1l0 93.1M124.4 742.8l0 72.5M130.0 773.5l0 73.9M135.0 754.8l0 106.9M138.7 768.8l0 66M143.2 762.3l0 113.5M149.1 766.8l0 49.5M155.1 758.3l0 65.1M160.8 766.9l0 88.8M166.6 752.4l0 45M172.3 765.4l0 54.9M177.6 757.6l0 69.3M183.3 769.2l0 75M190.5 779.2l0 95.3M198.6 755.7l0 86.7M206.7 763.3l0 50.4M214.7 799.5l0 77.5M222.7 783.4l0 83.3M230.6 789.5l0 99.2M238.5 804.1l0 84.1M246.4 785.6l0 61.8M254.2 792.9l0 72.8M262.0 809.2l0 111.9M269.8 823.8l0 80.4M277.5 807.4l0 103M285.1 798.7l0 50.5M292.8 800.2l0 106.6M300.4 795.9l0 61.2M307.9 822.4l0 54M315.5 788.8l0 61.5M323.0 777.8l0 111.6M332.3 765.9l0 76.5M341.5 781.4l0 61.8M348.9 784.8l0 93.1M356.2 808.6l0 76.8M363.4 809.6l0 88.5M370.7 827.8l0 48.8M377.9 840.0l0 108.4M385.0 832.0l0 71.8M392.2 822.1l0 53.8M399.3 833.1l0 80.5M406.3 833.0l0 53.9M413.3 832.5l0 86.7M420.3 817.7l0 77.1M427.2 800.0l0 87.2M434.1 812.1l0 45.4M441.0 791.4l0 74.3M447.8 804.3l0 75.3M454.6 793.9l0 84.7M461.3 767.0l0 65.7M468.0 765.1l0 54.1M474.7 768.8l0 90.3M482.0 752.3l0 93.4M488.5 753.2l0 112.4M493.9 756.2l0 81.3M498.9 755.5l0 51M503.1 761.2l0 107.7M507.9 761.7l0 64.8M513.1 788.8l0 74.2M518.4 774.0l0 72.7M523.5 754.5l0 72.8M528.0 760.5l0 103.8M532.2 749.9l0 68.7M537.0 748.8l0 71.9M542.2 763.5l0 82M547.0 758.6l0 46.7M551.1 751.6l0 112.4M555.4 772.2l0 81.5M559.5 808.9l0 114.9M562.5 846.5l0 112.2M564.7 842.1l0 65.8" fill="none" stroke="#1c2d72" stroke-width="0.8" stroke-linejoin="round" stroke-opacity="0.55"/>
</g>
<clipPath id="clipd"><rect x="958.7" y="692.5" width="562.9" height="545.5"/></clipPath>
<g clip-path="url(#clipd)">
<path d="M989.1 708.6l6.2 10.3 6.2 -1.2 18.7 44.8 11.6 -15.4 7 1.7 10.4 30.2 8.3 -11.2 8.2 5 10.4 17.8 6.2 1.7 12.5 17.8 14.5 14.5 14.5 18.7 12.4 4.1 18.7 8.3 14.5 -2.9 10.3 -4.2 10.4 -24 12.4 -37.3 10.4 -33.1 10.3 45.6 12.5 41.4 14.5 33.1 8.3 -10.3 10.3 0 6.2 1.2 10.4 -13.6 10.3 -12.5 8.3 -14.5 12.5 -12.4 10.3 -27 8.3 -10.3 12.5 -16.6 12.4 -24.9 12.4 -12.4 8.3 4.2 10.4 18.6 8.3 -14.5 14.5 -4.1 10.3 0 6.3 6.2 6.1 43.5" fill="none" stroke="#262626" stroke-width="1.45" stroke-linejoin="round"/>
<path d="M989.1 709.4l6.2 13.7 6.2 0 18.7 62.1 11.6 -20.7 7 0 10.4 39.4 8.3 -11.6 18.6 44.7 6.2 .9 18.7 42.7 22.8 35.2 16.5 14.5 16.6 8.3 14.5 -5.4 8.3 -9.1 10.4 -33.2 12.4 -62.1 9.1 -64.3 11.6 93.3 10.4 62.1 14.5 24.9 14.5 6.2 14.5 -14.5 10.4 -8.3 10.3 -26.9 12.5 -22.8 12.4 -41.5 16.6 -49.7 12.4 -22.8 16.6 -39.3 6.2 -2.1 14.5 20.7 10.4 -8.3 6.2 2.9 10.4 -5 8.2 2.1 6.3 6.2 6.1 37.3" fill="none" stroke="#ff2a2a" stroke-width="1.45" stroke-linejoin="round"/>
<path d="M989.1 710.0l6.2 14.5 6.2 0 18.7 64.9 11.6 -21.6 7 0 10.4 44.4 8.3 -11.6 18.6 48.9 6.2 2 18.7 43.6 22.8 41.4 16.5 14.5 16.6 11.2 14.5 -7 8.3 -14.5 10.4 -33.2 12.4 -70.5 9.1 -70.4 11.6 99.4 12.5 78.8 14.5 24.9 12.4 6.2 14.5 -14.5 10.4 -12.5 10.3 -33.1 12.5 -20.7 12.4 -49.8 16.6 -53.8 12.4 -22.8 16.6 -42.7 6.2 -1.5 14.5 23.5 10.4 -8.3 16.6 -2.9 14.5 8.2 6.1 36.1" fill="none" stroke="#2a2aff" stroke-width="1.45" stroke-linejoin="round"/>
<linearGradient id="ngd" gradientUnits="userSpaceOnUse" x1="0" y1="708.0" x2="0" y2="830.0"><stop offset="0" stop-color="#1c2d72" stop-opacity="1"/><stop offset="0.18" stop-color="#1c2d72" stop-opacity="0.85"/><stop offset="0.6" stop-color="#1c2d72" stop-opacity="0.2"/><stop offset="1" stop-color="#1c2d72" stop-opacity="0"/></linearGradient>
<path d="M987.2 712.0l1.3 -2.4 0 -1.2 .2 -.9 .1 -.6 .3 -.2 .2 .2 .2 .6 .1 .9 0 1.2 1.3 14.6 0 0 1.3 -11.9 .1 -2.2 .2 -1.7 .3 -1 .5 -.4 .4 .4 .3 1 .2 1.7 .1 2.2 1.3 24 0 0 1.3 -22.5 .1 -3.4 .3 -2.5 .5 -1.6 .6 -.6 .7 .6 .5 1.6 .3 2.5 .1 3.4 1.3 24.5 0 0 1.3 -23.3 .1 -2.7 .2 -2.1 .4 -1.3 .5 -.4 .6 .4 .4 1.3 .2 2.1 .1 2.7 1.3 47 0 0 1.3 -39.2 .1 -3.6 .3 -2.7 .6 -1.7 .6 -.6 .7 .6 .6 1.7 .3 2.7 .1 3.6 1.3 67.8 0 0 1.3 -76.5 0 -1.4 .2 -1.1 .2 -.6 .3 -.3 .2 .3 .2 .6 .2 1.1 0 1.4 1.3 95.4 0 0 1.3 -96 0 -.9 .1 -.7 .2 -.5 .1 -.2 .2 .2 .2 .5 .1 .7 0 .9 1.3 112.8 0 0 1.3 -108.5 .1 -3 .3 -2.3 .4 -1.5 .6 -.5 .6 .5 .4 1.5 .3 2.3 .1 3 1.3 106.1 0 0 1.3 -104.4 .1 -3.8 .4 -2.9 .5 -1.8 .7 -.6 .8 .6 .5 1.8 .4 2.9 .1 3.8 1.3 98.3 0 0 1.3 -99.5 .1 -3.3 .3 -2.6 .5 -1.6 .7 -.5 .6 .5 .5 1.6 .3 2.6 .1 3.3 1.3 108.8 0 0 1.3 -109.7 .1 -3.1 .3 -2.2 .4 -1.5 .6 -.5 .6 .5 .4 1.5 .3 2.2 .1 3.1 1.3 133.7 0 0 1.3 -133.1 .1 -3.8 .4 -2.9 .5 -1.8 .8 -.6 .7 .6 .6 1.8 .3 2.9 .1 3.8 1.3 168.4 0 0 1.3 -169.8 .1 -2.9 .3 -2.1 .4 -1.4 .5 -.4 .6 .4 .4 1.4 .2 2.1 .1 2.9 1.3 183.2 0 0 1.3 -184.2 .1 -2.6 .3 -2 .3 -1.2 .6 -.5 .5 .5 .3 1.2 .3 2 .1 2.6 1.3 196.9 0 0 1.3 -193 .1 -4 .4 -3 .5 -1.9 .8 -.6 .8 .6 .5 1.9 .4 3 .1 4 1.3 220.1 0 0 1.3 -212.9 .2 -5.9 .6 -4.3 .8 -2.8 1.1 -1 1.1 1 .9 2.8 .5 4.3 .2 5.9 1.3 270.6 0 0 1.3 -273.6 .2 -5.8 .5 -4.3 .9 -2.8 1.1 -1 1.1 1 .8 2.8 .6 4.3 .2 5.8 1.3 307.9 0 0 1.3 -305.7 .1 -5.8 .6 -4.3 .8 -2.8 1.1 -.9 1.1 .9 .9 2.8 .5 4.3 .2 5.8 1.3 338 0 0 1.3 -333.3 .2 -5.7 .5 -4.3 .8 -2.7 1.1 -1 1.1 1 .8 2.7 .6 4.3 .1 5.7 1.3 365.4 0 0 1.3 -368.4 .2 -5.7 .6 -4.2 .8 -2.7 1.1 -1 1.1 1 .8 2.7 .5 4.2 .2 5.7 1.3 394.6 0 0 1.3 -392.6 .2 -5.6 .5 -4.3 .8 -2.7 1.1 -.9 1.1 .9 .8 2.7 .5 4.3 .2 5.6 1.3 417 0 0 1.3 -413.2 .2 -5.6 .5 -4.2 .8 -2.7 1.1 -.9 1 .9 .9 2.7 .5 4.2 .1 5.6 1.3 436.2 0 0 1.3 -439.8 .2 -5.6 .5 -4.1 .8 -2.7 1.1 -.9 1.1 .9 .8 2.7 .5 4.1 .2 5.6 1.3 457.8 0 0 1.3 -456.8 .1 -5.6 .6 -4.1 .8 -2.7 1 -.9 1.1 .9 .8 2.7 .5 4.1 .2 5.6 1.3 470.2 0 0 1.3 -467.8 .1 -5.4 .5 -4.1 .8 -2.7 1.1 -.9 1 .9 .8 2.7 .5 4.1 .2 5.4 1.3 475.4 0 0 1.3 -478.1 .2 -5.4 .5 -4.1 .8 -2.6 1 -.9 1.1 .9 .7 2.6 .5 4.1 .2 5.4 1.3 481.2 0 0 1.3 -480.1 .2 -5.4 .5 -4.1 .8 -2.6 1 -.9 1 .9 .8 2.6 .5 4.1 .2 5.4 1.3 481.2 0 0 1.3 -481 .2 -5.4 .5 -4 .7 -2.6 1.1 -.8 1 .8 .8 2.6 .5 4 .1 5.4 1.3 478.6 0 0 1.3 -479.2 .2 -5.4 .5 -3.9 .8 -2.6 1 -.9 1 .9 .8 2.6 .5 3.9 .1 5.4 1.3 472.8 0 0 1.3 -474.4 .2 -5.3 .5 -3.9 .7 -2.6 1.1 -.9 1 .9 .7 2.6 .5 3.9 .2 5.3 1.3 461.8 0 0 1.3 -464.3 .2 -5.3 .4 -3.9 .8 -2.5 1 -.9 1 .9 .8 2.5 .5 3.9 .1 5.3 1.3 436 0 0 1.3 -437.2 .2 -5.2 .5 -3.9 .7 -2.5 1 -.8 1 .8 .8 2.5 .4 3.9 .2 5.2 1.3 392.9 0 0 1.3 -394.2 .2 -5.1 .4 -3.9 .8 -2.5 1 -.8 1 .8 .7 2.5 .5 3.9 .2 5.1 1.3 327 0 0 1.3 -318.3 .2 -9.1 .9 -6.8 1.3 -4.3 1.7 -1.5 1.8 1.5 1.3 4.3 .8 6.8 .3 9.1 1.3 138.9 0 0 1.3 -148.5 .2 -5 .4 -3.8 .8 -2.4 .9 -.9 1 .9 .7 2.4 .5 3.8 .2 5 1.3 233.7 0 0 1.3 -229.2 .1 -5 .5 -3.8 .7 -2.4 1 -.8 .9 .8 .8 2.4 .4 3.8 .2 5 1.3 379.5 0 0 1.3 -375.2 .1 -5 .5 -3.7 .7 -2.4 1 -.8 .9 .8 .7 2.4 .5 3.7 .2 5 1.3 464 0 0 1.3 -463.2 .1 -5 .5 -3.6 .7 -2.4 .9 -.8 1 .8 .7 2.4 .5 3.6 .1 5 1.3 472.1 0 0 1.3 -469.9 .2 -4.9 .4 -3.7 .7 -2.3 1 -.8 .9 .8 .7 2.3 .5 3.7 .1 4.9 1.3 477 0 0 1.3 -477.2 .2 -4.9 .4 -3.6 .7 -2.3 .9 -.8 1 .8 .7 2.3 .4 3.6 .2 4.9 1.3 479 0 0 1.3 -478.8 .1 -4.8 .5 -3.6 .7 -2.3 .9 -.8 .9 .8 .7 2.3 .5 3.6 .1 4.8 1.3 480.5 0 0 1.3 -480.8 .2 -4.7 .4 -3.6 .7 -2.3 .9 -.8 .9 .8 .7 2.3 .5 3.6 .1 4.7 1.3 477.9 0 0 1.3 -477.4 .2 -4.7 .4 -3.5 .7 -2.3 .9 -.8 .9 .8 .7 2.3 .4 3.5 .2 4.7 1.3 474 0 0 1.3 -474.7 .1 -4.6 .4 -3.5 .7 -2.3 .9 -.8 .9 .8 .7 2.3 .4 3.5 .2 4.6 1.3 472.5 0 0 1.3 -473.6 .1 -4.6 .5 -3.5 .6 -2.2 .9 -.8 .9 .8 .7 2.2 .4 3.5 .2 4.6 1.3 466.4 0 0 1.3 -467.2 .1 -4.6 .4 -3.4 .7 -2.2 .9 -.8 .9 .8 .6 2.2 .5 3.4 .1 4.6 1.3 449.5 0 0 1.3 -451.5 .1 -4.5 .5 -3.4 .6 -2.2 .9 -.8 .9 .8 .6 2.2 .5 3.4 .1 4.5 1.3 422.2 0 0 1.3 -421.2 .2 -4.6 .4 -3.3 .6 -2.2 .9 -.8 .9 .8 .6 2.2 .4 3.3 .2 4.6 1.3 384.2 0 0 1.3 -388.6 .1 -4.5 .4 -3.4 .7 -2.1 .8 -.8 .9 .8 .6 2.1 .5 3.4 .1 4.5 1.3 348.2 0 0 1.3 -349.2 .1 -4.5 .5 -3.3 .6 -2.1 .9 -.8 .8 .8 .6 2.1 .5 3.3 .1 4.5 1.3 302 0 0 1.3 -304.8 .1 -4.4 .4 -3.3 .7 -2.1 .8 -.7 .9 .7 .6 2.1 .4 3.3 .2 4.4 1.3 247.8 0 0 1.3 -249.4 .1 -4.4 .4 -3.2 .6 -2.1 .9 -.7 .8 .7 .6 2.1 .4 3.2 .2 4.4 1.3 189.9 0 0 1.3 -190.9 .1 -4.3 .4 -3.2 .6 -2.1 .9 -.7 .8 .7 .6 2.1 .4 3.2 .2 4.3 1.3 119.7 0 0 1.3 -121.2 .1 -4.2 .4 -3.2 .6 -2.1 .8 -.7 .8 .7 .7 2.1 .4 3.2 .1 4.2 1.3 79.2 0 0 1.3 -76.3 .2 -5.7 .5 -4.3 .8 -2.8 1.1 -.9 1.1 .9 .9 2.8 .5 4.3 .2 5.7 1.3 48 0 0 1.3 -56.9 .1 -2.5 .2 -1.9 .3 -1.2 .5 -.4 .5 .4 .4 1.2 .2 1.9 .1 2.5 1.3 45.8 0 0 1.3 -43.2 .1 -3.5 .3 -2.6 .5 -1.6 .7 -.6 .7 .6 .5 1.6 .3 2.6 .1 3.5 1.3 35.5 0 0 1.3 -38.6 .1 -1.6 .1 -1.1 .2 -.8 .3 -.2 .3 .2 .2 .8 .2 1.1 0 1.6 1.3 35.1 0 0 1.3 -34.7 .1 -1.8 .2 -1.3 .2 -.9 .4 -.3 .3 .3 .3 .9 .1 1.3 .1 1.8 1.3 31.5 0 0 1.3 -28.7 .1 -2.7 .2 -2 .4 -1.4 .5 -.4 .6 .4 .3 1.4 .3 2 .1 2.7 1.3 36.9 0 0 1.3 -33.6 .1 -2.7 .2 -2.1 .4 -1.3 .5 -.4 .6 .4 .4 1.3 .2 2.1 .1 2.7 1.3 48.9 0 0 1.3 -51.9 .1 -2.9 .3 -2.1 .4 -1.4 .5 -.4 .6 .4 .4 1.4 .2 2.1 .1 2.9 1.3 49.8 0 0 1.3 -51.6 .1 -2.6 .3 -2 .3 -1.3 .5 -.4 .5 .4 .4 1.3 .3 2 0 2.6 1.3 49.6 0 0 1.3 -52.4 .1 -1.3 .1 -1 .2 -.7 .3 -.2 .2 .2 .2 .7 .1 1 .1 1.3 1.3 56.9 0 0 1.3 -55.2 0 -1.9 .2 -1.4 .3 -.9 .3 -.3 .4 .3 .3 .9 .2 1.4 0 1.9 1.3 60.6 0 0 1.3 -59.8 .1 -2.6 .2 -2 .4 -1.3 .5 -.4 .5 .4 .4 1.3 .3 2 0 2.6 1.3 59.4 0 0 1.3 -54.3 .1 -3 .3 -2.2 .4 -1.4 .6 -.5 .6 .5 .4 1.4 .3 2.2 .1 3 1.3 53.4 0 0 1.3 -57.1 0 -1.6 .1 -1.1 .3 -.8 .3 -.2 .3 .2 .2 .8 .1 1.1 .1 1.6 1.3 58 0 0 1.3 -60.4 0 -1.7 .2 -1.2 .2 -.8 .4 -.3 .3 .3 .2 .8 .2 1.2 0 1.7 1.3 63.4 0 0 1.3 -63.4 .1 -1.8 .1 -1.3 .3 -.9 .3 -.3 .4 .3 .2 .9 .2 1.3 .1 1.8 1.3 75.9 0 0 1.3 -72.4 0 -1.5 .1 -1.1 .2 -.7 .3 -.2 .3 .2 .2 .7 .1 1.1 .1 1.5 1.3 96 0 0 .9 -92.5 0 -.4 0 -.2 .1 -.2 0 0 .1 0 0 .2 .1 .2 0 .4 .9 108.5 0 0 .8 -104.7 0 -.3 .1 -.3 0 -.1 .1 -.1 .1 .1 0 .1 0 .3 0 .3 .9 108.4M987.2 712.0l3.7 12.2 4.7 12.1 5.7 2 5.1 23.7 5.9 28.6 3.9 18.9 3.5 16.8 5.4 -2.4 6.1 -6.1 5.7 9.3 5.4 24 6.1 35.3 5.2 13.4 5.1 12.7 6.2 27.1 8 57.7 8 34.3 7.9 32.3 7.8 32.1 7.9 26.2 7.8 24.4 7.7 23 7.8 18 7.7 13.4 7.6 7.6 7.6 3.1 7.6 1.1 7.5 -2.4 7.5 -6.4 7.5 -12.6 7.4 -28.3 7.4 -44.3 7.4 -67.2 10.9 -179.4 7.3 85.2 7.2 150.3 7.2 88.8 7.1 8.9 7.1 7.1 7.1 1.8 7 1.7 7 -2.9 7 -3.4 6.9 -2.2 6.9 -7.2 6.8 -17.7 6.8 -29.3 6.8 -37 6.7 -40.4 6.7 -47.2 6.7 -57 6.6 -59.5 6.6 -71.2 6.5 -42 7.9 -28.3 4.9 -11.1 5.8 -7.7 4 -3.5 4.3 -3.2 5.1 8.2 5.1 15.3 5.2 -2.1 5 -2 3.9 4.5 4.3 5.4 5 -.4 5.4 -.9 4 .9 4.1 3 4.3 12.5 3.9 23.6 2.1 16 2 3.7" fill="none" stroke="#00f0f0" stroke-width="1.25" stroke-linejoin="round"/>
<path d="M989.4 708.4l0 -.1 0 -.2 -.2 -.2 -.1 0 -.2 0 -.1 .2 -.1 .2 0 .1M993.1 712.4l0 -3.4 .1 -.4 0 -.3 .1 -.1 0 .1 0 .3 .1 .4 0 3.4M997.8 715.9l0 -5.6 0 -1.8 .3 -1.2 .3 -.4 .4 .4 .2 1.2 .1 1.8 0 5.6M1003.5 717.3l0 -5.8 0 -1 .1 -.6 .2 -.2 .2 .2 .1 .6 .1 1 0 5.8M1008.6 727.0l0 -7.7 .1 -2.1 .2 -1.3 .4 -.5 .4 .5 .3 1.3 .1 2.1 0 7.7M1014.5 737.8l0 -25.1 0 -.4 -.1 -.3 -.1 -.1 -.2 .1 -.1 .3 0 .4 0 25.1M1018.4 744.8l0 -31.6 0 -.4 -.2 -.3 -.3 -.1 -.2 .1 -.2 .3 0 .4 0 31.6M1021.9 749.9l0 -35.5 0 -1.4 .2 -.9 .3 -.4 .3 .4 .1 .9 .1 1.4 0 35.5M1027.3 747.4l0 -31.4 .1 -2.4 .3 -1.5 .4 -.5 .5 .5 .3 1.5 .1 2.4 0 31.4M1033.4 747.4l0 -32.5 .1 -1.8 .2 -1.2 .4 -.4 .3 .4 .2 1.2 .1 1.8 0 32.5M1039.1 750.3l0 -36.4 .1 -1.4 .1 -.9 .3 -.3 .3 .3 .2 .9 0 1.4 0 36.4M1044.5 758.5l0 -44 .1 -2.3 .3 -1.6 .5 -.5 .4 .5 .3 1.6 .1 2.3 0 44M1050.6 771.0l0 -57.9 .1 -1.2 .1 -.7 .2 -.2 .2 .2 .2 .7 0 1.2 0 57.9M1055.8 775.8l0 -63.7 .1 -.8 .1 -.6 .2 -.2 .1 .2 .1 .6 .1 .8 0 63.7M1060.9 780.4l0 -64.4 .1 -2.6 .3 -1.6 .5 -.6 .5 .6 .3 1.6 .1 2.6 0 64.4M1067.1 790.0l0 -66.8 .2 -5 .7 -3.2 .9 -1.1 1 1.1 .6 3.2 .2 5 0 66.8M1075.1 810.2l0 -89.9 .2 -5 .6 -3.1 1 -1.2 .9 1.2 .6 3.1 .3 5 0 89.9M1083.1 820.1l0 -97.7 .2 -4.9 .6 -3.1 .9 -1.1 1 1.1 .6 3.1 .2 4.9 0 97.7M1091.0 822.2l0 -95.1 .2 -4.8 .6 -3.1 .9 -1.1 .9 1.1 .6 3.1 .2 4.8 0 95.1M1098.8 823.5l0 -99.4 .3 -4.7 .6 -3.1 .9 -1.1 .9 1.1 .6 3.1 .2 4.7 0 99.4M1106.7 824.5l0 -98.4 .2 -4.7 .6 -3 .9 -1.1 .9 1.1 .6 3 .2 4.7 0 98.4M1114.5 825.2l0 -95.3 .2 -4.7 .6 -3 .9 -1 .9 1 .5 3 .2 4.7 0 95.3M1122.2 825.7l0 -99.4 .3 -4.6 .5 -3 .9 -1 .9 1 .6 3 .2 4.6 0 99.4M1130.0 826.2l0 -98.9 .2 -4.6 .5 -2.9 .9 -1.1 .9 1.1 .6 2.9 .2 4.6 0 98.9M1137.7 826.6l0 -96.8 .2 -4.5 .5 -2.9 .9 -1.1 .9 1.1 .5 2.9 .2 4.5 0 96.8M1145.3 827.0l0 -100 .2 -4.4 .6 -2.9 .8 -1 .9 1 .5 2.9 .2 4.4 0 100M1152.9 827.4l0 -99.3 .2 -4.4 .6 -2.9 .8 -1 .9 1 .5 2.9 .2 4.4 0 99.3M1160.5 827.3l0 -99 .2 -4.3 .5 -2.8 .9 -1 .8 1 .5 2.8 .2 4.3 0 99M1168.0 826.9l0 -99.2 .2 -4.3 .6 -2.8 .8 -1 .8 1 .5 2.8 .2 4.3 0 99.2M1175.5 825.1l0 -99 .2 -4.2 .5 -2.8 .9 -1 .8 1 .5 2.8 .2 4.2 0 99M1183.0 823.2l0 -99.6 .2 -4.2 .5 -2.7 .8 -1 .8 1 .5 2.7 .2 4.2 0 99.6M1190.4 822.0l0 -99.6 .2 -4.1 .5 -2.7 .8 -.9 .8 .9 .5 2.7 .2 4.1 0 99.6M1197.8 821.1l0 -100 .2 -4 .5 -2.7 .8 -.9 .8 .9 .5 2.7 .2 4 0 100M1205.2 767.2l0 -37.4 .4 -9.1 1.1 -5.9 1.7 -2 1.8 2 1.1 5.9 .4 9.1 0 37.4M1216.1 767.2l0 -46.9 .2 -4 .5 -2.5 .7 -1 .8 1 .5 2.5 .2 4 0 46.9M1223.4 798.5l0 -73.8 .1 -3.9 .5 -2.5 .8 -.9 .7 .9 .5 2.5 .2 3.9 0 73.8M1230.6 827.1l0 -98.1 .2 -3.9 .4 -2.5 .8 -.8 .7 .8 .5 2.5 .2 3.9 0 98.1M1237.8 829.9l0 -100.1 .1 -3.8 .5 -2.5 .7 -.8 .8 .8 .4 2.5 .2 3.8 0 100.1M1244.9 831.7l0 -99.7 .2 -3.7 .4 -2.5 .8 -.8 .7 .8 .4 2.5 .2 3.7 0 99.7M1252.0 833.1l0 -101.3 .2 -3.7 .4 -2.4 .7 -.8 .8 .8 .4 2.4 .2 3.7 0 101.3M1259.1 833.1l0 -101.1 .1 -3.6 .5 -2.4 .7 -.8 .7 .8 .5 2.4 .1 3.6 0 101.1M1266.1 833.1l0 -101.4 .2 -3.5 .4 -2.4 .7 -.8 .7 .8 .4 2.4 .2 3.5 0 101.4M1273.1 833.1l0 -100.8 .2 -3.6 .4 -2.3 .7 -.8 .7 .8 .4 2.3 .2 3.6 0 100.8M1280.1 832.5l0 -100.9 .1 -3.5 .5 -2.3 .6 -.8 .7 .8 .4 2.3 .2 3.5 0 100.9M1287.0 831.3l0 -100.9 .1 -3.4 .5 -2.2 .6 -.8 .7 .8 .4 2.2 .2 3.4 0 100.9M1293.9 830.1l0 -100.4 .1 -3.4 .4 -2.2 .7 -.8 .6 .8 .5 2.2 .1 3.4 0 100.4M1300.7 828.7l0 -101 .2 -3.4 .4 -2.1 .6 -.8 .6 .8 .5 2.1 .1 3.4 0 101M1307.5 827.4l0 -98.8 .2 -3.3 .4 -2.1 .6 -.8 .6 .8 .4 2.1 .2 3.3 0 98.8M1314.3 825.6l0 -101.4 .1 -3.2 .4 -2.1 .6 -.8 .7 .8 .4 2.1 .1 3.2 0 101.4M1321.0 823.6l0 -100.4 .1 -3.2 .4 -2 .7 -.8 .6 .8 .4 2 .1 3.2 0 100.4M1327.7 802.7l0 -82.2 .1 -3.2 .4 -2 .6 -.7 .6 .7 .4 2 .2 3.2 0 82.2M1334.4 781.0l0 -62.2 .1 -3 .4 -2 .6 -.7 .6 .7 .3 2 .2 3 0 62.2M1341.0 755.2l0 -37.4 .1 -3 .4 -1.9 .6 -.7 .5 .7 .4 1.9 .2 3 0 37.4M1347.6 740.1l0 -23.7 .1 -3 .4 -1.9 .5 -.7 .6 .7 .4 1.9 .1 3 0 23.7M1354.1 729.9l0 -10.7 .2 -4.8 .6 -3.1 .9 -1.1 1 1.1 .6 3.1 .2 4.8 0 10.7M1362.0 725.9l0 -15.5 0 -.8 .1 -.4 .1 -.2 .2 .2 .1 .4 0 .8 0 15.5M1366.9 723.4l0 -10.5 .1 -1.9 .2 -1.3 .4 -.4 .4 .4 .2 1.3 .1 1.9 0 10.5M1372.7 722.3l0 -10.7 0 -.5 -.1 -.2 -.1 -.1 -.1 .1 0 .2 -.1 .5 0 10.7M1376.7 721.4l0 -10 0 -.4 0 -.3 0 -.1 -.1 .1 0 .3 0 .4 0 10M1381.0 721.4l0 -8.3 0 -1 .1 -.7 .2 -.2 .2 .2 .1 .7 .1 1 0 8.3M1386.1 724.3l0 -8 0 -1 .2 -.6 .1 -.2 .2 .2 .2 .6 0 1 0 8M1391.2 728.9l0 -15.6 .1 -1.1 .1 -.8 .2 -.2 .2 .2 .2 .8 0 1.1 0 15.6M1396.4 728.1l0 -16.6 .1 -.8 .1 -.6 .1 -.2 .2 .2 .1 .6 0 .8 0 16.6M1401.4 728.1l0 -17.1 0 -.4 -.1 -.3 -.1 -.1 -.2 .1 -.1 .3 0 .4 0 17.1M1405.3 729.6l0 -18.3 0 -.4 0 -.3 -.1 0 0 0 0 .3 0 .4 0 18.3M1409.6 731.0l0 -19.8 .1 -.9 .1 -.5 .1 -.2 .2 .2 .1 .5 0 .9 0 19.8M1414.6 730.8l0 -14.5 .1 -1.3 .1 -.8 .3 -.3 .2 .3 .2 .8 .1 1.3 0 14.5M1420.0 730.8l0 -16.5 -.1 -.4 0 -.2 -.1 -.1 -.1 .1 -.1 .2 0 .4 0 16.5M1424.0 731.2l0 -19.5 0 -.4 -.1 -.3 0 -.1 -.1 .1 -.1 .3 0 .4 0 19.5M1428.1 732.4l0 -21 0 -.4 0 -.3 -.1 -.1 0 .1 0 .3 0 .4 0 21M1432.4 736.9l0 -21.2 -.1 -.4 -.1 -.3 -.1 -.1 -.1 .1 -.1 .3 0 .4 0 21.2M1435.9 750.8l0 -29 -.1 -.4 -.3 -.2 -.4 -.1 -.4 .1 -.2 .2 -.1 .4 0 29M1437.9 759.6l0 -33.9 -.1 -.4 -.2 -.3 -.4 -.1 -.4 .1 -.3 .3 -.1 .4 0 33.9" fill="none" stroke="url(#ngd)" stroke-width="1.15" stroke-linejoin="round"/>
</g>
<g font-family="'Liberation Sans', Arial, Helvetica, sans-serif" fill="#262626" font-size="20">
<rect x="78.3" y="34.7" width="612.9" height="546.0" fill="none" stroke="#262626" stroke-width="1.1"/>
<path d="M101.9 580.7v-6.3M101.9 34.7v6.3M196.2 580.7v-6.3M196.2 34.7v6.3M290.5 580.7v-6.3M290.5 34.7v6.3M384.8 580.7v-6.3M384.8 34.7v6.3M479.0 580.7v-6.3M479.0 34.7v6.3M573.3 580.7v-6.3M573.3 34.7v6.3M667.6 580.7v-6.3M667.6 34.7v6.3M78.3 538.7h6.3M691.2 538.7h-6.3M78.3 454.7h6.3M691.2 454.7h-6.3M78.3 370.7h6.3M691.2 370.7h-6.3M78.3 286.7h6.3M691.2 286.7h-6.3M78.3 202.7h6.3M691.2 202.7h-6.3M78.3 118.7h6.3M691.2 118.7h-6.3M78.3 34.7h6.3M691.2 34.7h-6.3" stroke="#262626" stroke-width="1.1" fill="none"/>
<text x="101.9" y="610.5" text-anchor="middle">6160</text>
<text x="196.2" y="610.5" text-anchor="middle">6180</text>
<text x="290.5" y="610.5" text-anchor="middle">6200</text>
<text x="384.8" y="610.5" text-anchor="middle">6220</text>
<text x="479.0" y="610.5" text-anchor="middle">6240</text>
<text x="573.3" y="610.5" text-anchor="middle">6260</text>
<text x="667.6" y="610.5" text-anchor="middle">6280</text>
<text x="68.8" y="546.5" text-anchor="end">0.3</text>
<text x="68.8" y="462.5" text-anchor="end">0.4</text>
<text x="68.8" y="378.5" text-anchor="end">0.5</text>
<text x="68.8" y="294.5" text-anchor="end">0.6</text>
<text x="68.8" y="210.5" text-anchor="end">0.7</text>
<text x="68.8" y="126.5" text-anchor="end">0.8</text>
<text x="68.8" y="42.5" text-anchor="end">0.9</text>
<rect x="960.3" y="36.0" width="605.7" height="544.7" fill="none" stroke="#262626" stroke-width="1.1"/>
<path d="M983.6 580.7v-6.3M983.6 36.0v6.3M1076.8 580.7v-6.3M1076.8 36.0v6.3M1170.0 580.7v-6.3M1170.0 36.0v6.3M1263.2 580.7v-6.3M1263.2 36.0v6.3M1356.3 580.7v-6.3M1356.3 36.0v6.3M1449.5 580.7v-6.3M1449.5 36.0v6.3M1542.7 580.7v-6.3M1542.7 36.0v6.3M960.3 580.7h6.3M1566.0 580.7h-6.3M960.3 526.2h6.3M1566.0 526.2h-6.3M960.3 471.8h6.3M1566.0 471.8h-6.3M960.3 417.3h6.3M1566.0 417.3h-6.3M960.3 362.8h6.3M1566.0 362.8h-6.3M960.3 308.4h6.3M1566.0 308.4h-6.3M960.3 253.9h6.3M1566.0 253.9h-6.3M960.3 199.4h6.3M1566.0 199.4h-6.3M960.3 144.9h6.3M1566.0 144.9h-6.3M960.3 90.5h6.3M1566.0 90.5h-6.3M960.3 36.0h6.3M1566.0 36.0h-6.3" stroke="#262626" stroke-width="1.1" fill="none"/>
<text x="983.6" y="610.8" text-anchor="middle">6160</text>
<text x="1076.8" y="610.8" text-anchor="middle">6180</text>
<text x="1170.0" y="610.8" text-anchor="middle">6200</text>
<text x="1263.2" y="610.8" text-anchor="middle">6220</text>
<text x="1356.3" y="610.8" text-anchor="middle">6240</text>
<text x="1449.5" y="610.8" text-anchor="middle">6260</text>
<text x="1542.7" y="610.8" text-anchor="middle">6280</text>
<text x="950.8" y="588.5" text-anchor="end">289</text>
<text x="950.8" y="534.0" text-anchor="end">290</text>
<text x="950.8" y="479.6" text-anchor="end">291</text>
<text x="950.8" y="425.1" text-anchor="end">292</text>
<text x="950.8" y="370.6" text-anchor="end">293</text>
<text x="950.8" y="316.2" text-anchor="end">294</text>
<text x="950.8" y="261.7" text-anchor="end">295</text>
<text x="950.8" y="207.2" text-anchor="end">296</text>
<text x="950.8" y="152.7" text-anchor="end">297</text>
<text x="950.8" y="98.3" text-anchor="end">298</text>
<text x="950.8" y="43.8" text-anchor="end">299</text>
<rect x="78.55" y="689.75" width="571.9" height="548.0" fill="none" stroke="#262626" stroke-width="1.1"/>
<path d="M78.5 1237.8v-6.3M78.5 689.8v6.3M173.9 1237.8v-6.3M173.9 689.8v6.3M269.2 1237.8v-6.3M269.2 689.8v6.3M364.5 1237.8v-6.3M364.5 689.8v6.3M459.8 1237.8v-6.3M459.8 689.8v6.3M555.1 1237.8v-6.3M555.1 689.8v6.3M650.4 1237.8v-6.3M650.4 689.8v6.3M78.5 1237.8h6.3M650.4 1237.8h-6.3M78.5 1176.9h6.3M650.4 1176.9h-6.3M78.5 1116.0h6.3M650.4 1116.0h-6.3M78.5 1055.1h6.3M650.4 1055.1h-6.3M78.5 994.2h6.3M650.4 994.2h-6.3M78.5 933.3h6.3M650.4 933.3h-6.3M78.5 872.4h6.3M650.4 872.4h-6.3M78.5 811.5h6.3M650.4 811.5h-6.3M78.5 750.6h6.3M650.4 750.6h-6.3M78.5 689.8h6.3M650.4 689.8h-6.3" stroke="#262626" stroke-width="1.1" fill="none"/>
<text x="78.5" y="1266.4" text-anchor="middle">4800</text>
<text x="173.9" y="1266.4" text-anchor="middle">4820</text>
<text x="269.2" y="1266.4" text-anchor="middle">4840</text>
<text x="364.5" y="1266.4" text-anchor="middle">4860</text>
<text x="459.8" y="1266.4" text-anchor="middle">4880</text>
<text x="555.1" y="1266.4" text-anchor="middle">4900</text>
<text x="650.4" y="1266.4" text-anchor="middle">4920</text>
<text x="69.0" y="1245.6" text-anchor="end">0</text>
<text x="69.0" y="1184.7" text-anchor="end">0.1</text>
<text x="69.0" y="1123.8" text-anchor="end">0.2</text>
<text x="69.0" y="1062.9" text-anchor="end">0.3</text>
<text x="69.0" y="1002.0" text-anchor="end">0.4</text>
<text x="69.0" y="941.1" text-anchor="end">0.5</text>
<text x="69.0" y="880.2" text-anchor="end">0.6</text>
<text x="69.0" y="819.3" text-anchor="end">0.7</text>
<text x="69.0" y="758.4" text-anchor="end">0.8</text>
<text x="69.0" y="697.5" text-anchor="end">0.9</text>
<rect x="958.7" y="692.5" width="562.9" height="545.5" fill="none" stroke="#262626" stroke-width="1.1"/>
<path d="M958.7 1238.0v-6.3M958.7 692.5v6.3M1052.5 1238.0v-6.3M1052.5 692.5v6.3M1146.3 1238.0v-6.3M1146.3 692.5v6.3M1240.2 1238.0v-6.3M1240.2 692.5v6.3M1334.0 1238.0v-6.3M1334.0 692.5v6.3M1427.8 1238.0v-6.3M1427.8 692.5v6.3M1521.6 1238.0v-6.3M1521.6 692.5v6.3M958.7 1238.0h6.3M1521.6 1238.0h-6.3M958.7 1147.1h6.3M1521.6 1147.1h-6.3M958.7 1056.2h6.3M1521.6 1056.2h-6.3M958.7 965.2h6.3M1521.6 965.2h-6.3M958.7 874.3h6.3M1521.6 874.3h-6.3M958.7 783.4h6.3M1521.6 783.4h-6.3M958.7 692.5h6.3M1521.6 692.5h-6.3" stroke="#262626" stroke-width="1.1" fill="none"/>
<text x="958.7" y="1266.4" text-anchor="middle">4800</text>
<text x="1052.5" y="1266.4" text-anchor="middle">4820</text>
<text x="1146.3" y="1266.4" text-anchor="middle">4840</text>
<text x="1240.2" y="1266.4" text-anchor="middle">4860</text>
<text x="1334.0" y="1266.4" text-anchor="middle">4880</text>
<text x="1427.8" y="1266.4" text-anchor="middle">4900</text>
<text x="1521.6" y="1266.4" text-anchor="middle">4920</text>
<text x="949.2" y="1245.8" text-anchor="end">240</text>
<text x="949.2" y="1154.9" text-anchor="end">250</text>
<text x="949.2" y="1064.0" text-anchor="end">260</text>
<text x="949.2" y="973.0" text-anchor="end">270</text>
<text x="949.2" y="882.1" text-anchor="end">280</text>
<text x="949.2" y="791.2" text-anchor="end">290</text>
<text x="949.2" y="700.3" text-anchor="end">300</text>
</g>
<g font-family="'Liberation Sans', Arial, Helvetica, sans-serif" fill="#262626" font-size="23">
<text x="384.8" y="28.9" text-anchor="middle">Transmittance Spectrum (1.61μm)</text>
<text x="1263.2" y="30.2" text-anchor="middle">Bright Temperature Spectrum (1.61μm)</text>
<text x="364.5" y="683.6" text-anchor="middle">Transmittance Spectrum (2.06μm)</text>
<text x="1240.2" y="686.4" text-anchor="middle">Bright Temperature Spectrum (2.06μm)</text>
<text x="384.8" y="646.5" text-anchor="middle">Wave number cm<tspan font-size="16" dy="-11.5">-1</tspan></text>
<text x="1263.2" y="646.6" text-anchor="middle">Wave number cm<tspan font-size="16" dy="-11.5">-1</tspan></text>
<text x="364.5" y="1302.3" text-anchor="middle">Wave number cm<tspan font-size="16" dy="-11.5">-1</tspan></text>
<text x="1240.2" y="1301.5" text-anchor="middle">Wave number cm<tspan font-size="16" dy="-11.5">-1</tspan></text>
<text transform="translate(29.9,307.7) rotate(-90)" x="0" y="0" text-anchor="middle">Transmittance</text>
<text transform="translate(905.6,308.4) rotate(-90)" x="0" y="0" text-anchor="middle">Brightness temperature K</text>
<text transform="translate(29.9,963.8) rotate(-90)" x="0" y="0" text-anchor="middle">Transmittance</text>
<text transform="translate(905.6,965.2) rotate(-90)" x="0" y="0" text-anchor="middle">Brightness temperature K</text>
</g>
<g font-family="'Liberation Serif', 'Times New Roman', serif" font-weight="bold" font-size="32" fill="#000">
<text x="704.0" y="56.6">(a)</text>
<text x="1578.2" y="57.8">(b)</text>
<text x="662.8" y="711.3">(c)</text>
<text x="1533.3" y="714.3">(d)</text>
</g>
<rect x="708.2" y="244.8" width="165.4" height="124.6" fill="#fff" stroke="#262626" stroke-width="1.1"/>
<path d="M714.5 262.7H776.7" stroke="#404040" stroke-width="1.3"/>
<text x="782.4" y="272.8" font-family="'Liberation Sans', Arial, Helvetica, sans-serif" font-size="18.4" fill="#262626">0.482cm<tspan font-size="14.5" dx="0.8" dy="-9.2">-1</tspan></text>
<path d="M714.5 292.4H776.7" stroke="#f24444" stroke-width="1.3"/>
<text x="782.4" y="302.5" font-family="'Liberation Sans', Arial, Helvetica, sans-serif" font-size="18.4" fill="#262626">0.308cm<tspan font-size="14.5" dx="0.8" dy="-9.2">-1</tspan></text>
<path d="M714.5 322.2H776.7" stroke="#4a4af2" stroke-width="1.3"/>
<text x="782.4" y="332.3" font-family="'Liberation Sans', Arial, Helvetica, sans-serif" font-size="18.4" fill="#262626">0.27cm<tspan font-size="14.5" dx="0.8" dy="-9.2">-1</tspan></text>
<path d="M714.5 352.3H776.7" stroke="#33f0f0" stroke-width="1.3"/>
<text x="782.4" y="362.4" font-family="'Liberation Sans', Arial, Helvetica, sans-serif" font-size="18.4" fill="#262626">0.07cm<tspan font-size="14.5" dx="0.8" dy="-9.2">-1</tspan></text>
<rect x="1582.5" y="246.3" width="165.1" height="124.4" fill="#fff" stroke="#262626" stroke-width="1.1"/>
<path d="M1589.2 263.9H1651.2" stroke="#404040" stroke-width="1.3"/>
<text x="1656.7" y="274.0" font-family="'Liberation Sans', Arial, Helvetica, sans-serif" font-size="18.4" fill="#262626">0.482cm<tspan font-size="14.5" dx="0.8" dy="-9.2">-1</tspan></text>
<path d="M1589.2 293.7H1651.2" stroke="#f24444" stroke-width="1.3"/>
<text x="1656.7" y="303.8" font-family="'Liberation Sans', Arial, Helvetica, sans-serif" font-size="18.4" fill="#262626">0.308cm<tspan font-size="14.5" dx="0.8" dy="-9.2">-1</tspan></text>
<path d="M1589.2 323.3H1651.2" stroke="#4a4af2" stroke-width="1.3"/>
<text x="1656.7" y="333.4" font-family="'Liberation Sans', Arial, Helvetica, sans-serif" font-size="18.4" fill="#262626">0.27cm<tspan font-size="14.5" dx="0.8" dy="-9.2">-1</tspan></text>
<path d="M1589.2 353.2H1651.2" stroke="#33f0f0" stroke-width="1.3"/>
<text x="1656.7" y="363.3" font-family="'Liberation Sans', Arial, Helvetica, sans-serif" font-size="18.4" fill="#262626">0.07cm<tspan font-size="14.5" dx="0.8" dy="-9.2">-1</tspan></text>
<rect x="691.3" y="900.7" width="166.0" height="125.0" fill="#fff" stroke="#262626" stroke-width="1.1"/>
<path d="M697.7 918.3H760.3" stroke="#404040" stroke-width="1.3"/>
<text x="765.5" y="928.4" font-family="'Liberation Sans', Arial, Helvetica, sans-serif" font-size="18.4" fill="#262626">0.388cm<tspan font-size="14.5" dx="0.8" dy="-9.2">-1</tspan></text>
<path d="M697.7 948.5H760.3" stroke="#f24444" stroke-width="1.3"/>
<text x="765.5" y="958.6" font-family="'Liberation Sans', Arial, Helvetica, sans-serif" font-size="18.4" fill="#262626">0.236cm<tspan font-size="14.5" dx="0.8" dy="-9.2">-1</tspan></text>
<path d="M697.7 977.9H760.3" stroke="#4a4af2" stroke-width="1.3"/>
<text x="765.5" y="988.0" font-family="'Liberation Sans', Arial, Helvetica, sans-serif" font-size="18.4" fill="#262626">0.212cm<tspan font-size="14.5" dx="0.8" dy="-9.2">-1</tspan></text>
<path d="M697.7 1008.1H760.3" stroke="#33f0f0" stroke-width="1.3"/>
<text x="765.5" y="1018.2" font-family="'Liberation Sans', Arial, Helvetica, sans-serif" font-size="18.4" fill="#262626">0.07cm<tspan font-size="14.5" dx="0.8" dy="-9.2">-1</tspan></text>
<rect x="1562.2" y="902.5" width="165.4" height="124.9" fill="#fff" stroke="#262626" stroke-width="1.1"/>
<path d="M1568.5 919.9H1630.9" stroke="#404040" stroke-width="1.3"/>
<text x="1636.4" y="930.0" font-family="'Liberation Sans', Arial, Helvetica, sans-serif" font-size="18.4" fill="#262626">0.388cm<tspan font-size="14.5" dx="0.8" dy="-9.2">-1</tspan></text>
<path d="M1568.5 949.9H1630.9" stroke="#f24444" stroke-width="1.3"/>
<text x="1636.4" y="960.0" font-family="'Liberation Sans', Arial, Helvetica, sans-serif" font-size="18.4" fill="#262626">0.236cm<tspan font-size="14.5" dx="0.8" dy="-9.2">-1</tspan></text>
<path d="M1568.5 979.7H1630.9" stroke="#4a4af2" stroke-width="1.3"/>
<text x="1636.4" y="989.8" font-family="'Liberation Sans', Arial, Helvetica, sans-serif" font-size="18.4" fill="#262626">0.212cm<tspan font-size="14.5" dx="0.8" dy="-9.2">-1</tspan></text>
<path d="M1568.5 1009.5H1630.9" stroke="#33f0f0" stroke-width="1.3"/>
<text x="1636.4" y="1019.6" font-family="'Liberation Sans', Arial, Helvetica, sans-serif" font-size="18.4" fill="#262626">0.07cm<tspan font-size="14.5" dx="0.8" dy="-9.2">-1</tspan></text>
</svg>
</body></html>
